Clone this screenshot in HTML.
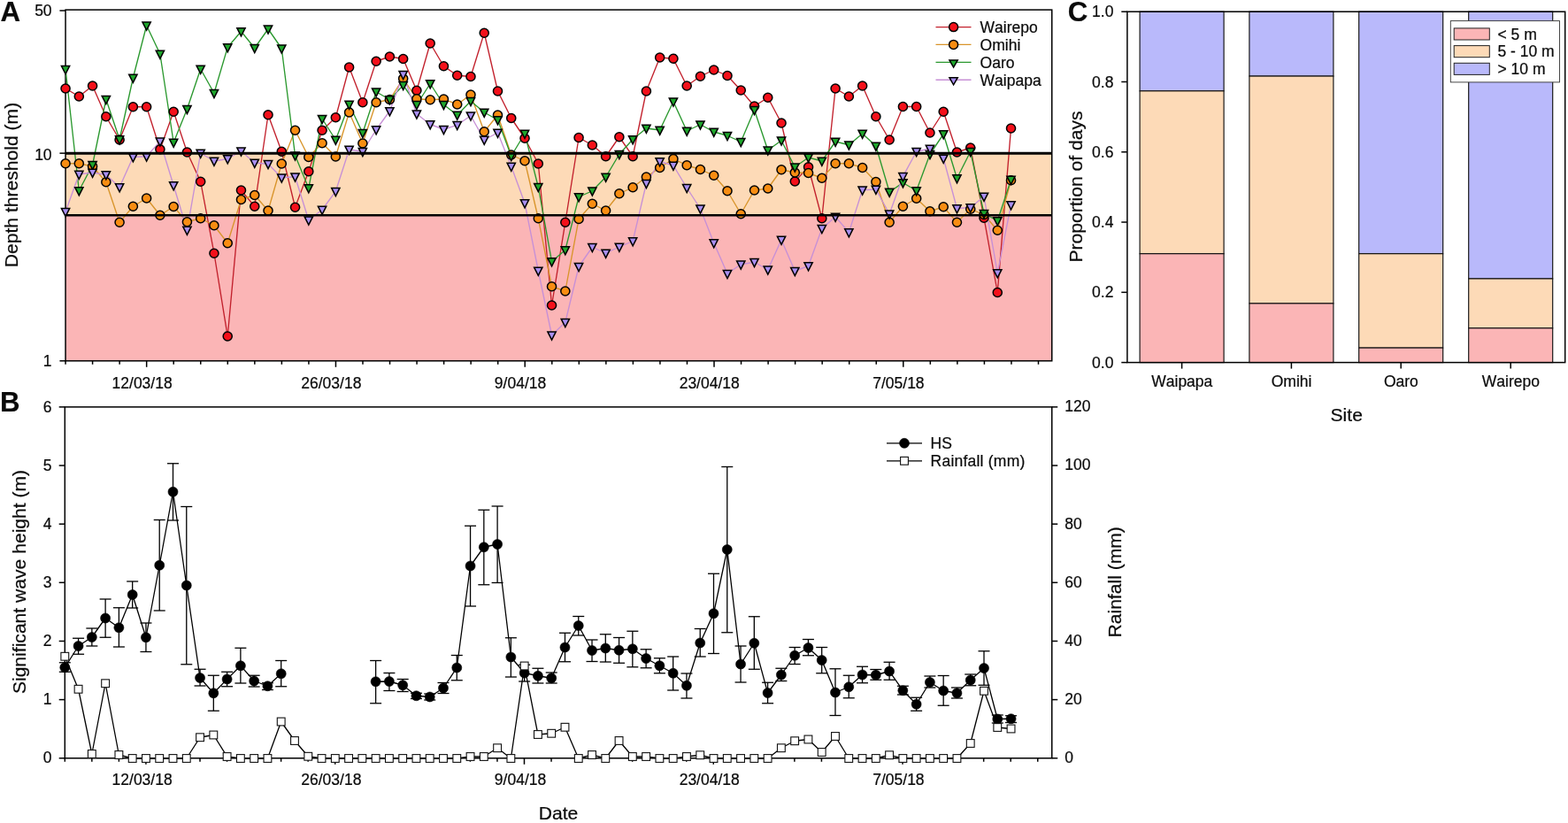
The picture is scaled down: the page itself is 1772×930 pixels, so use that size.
<!DOCTYPE html>
<html lang="en">
<head>
<meta charset="utf-8">
<title>Depth threshold, wave height, rainfall and proportion of days by site</title>
<style>
html,body{margin:0;padding:0;background:#fff;}
body{width:1772px;height:930px;overflow:hidden;}
svg{display:block;}
svg text{font-family:"Liberation Sans", sans-serif;fill:#0a0a0a;font-kerning:none;stroke:#0a0a0a;stroke-width:0.22px;stroke-linejoin:round;}
</style>
</head>
<body>
<svg width="1772" height="930" viewBox="0 0 1772 930">
<rect x="0" y="0" width="1772" height="930" fill="#ffffff"/>
<g id="panelA">
<rect x="74.05" y="173.15" width="1114.7" height="70.15" fill="#fddab7"/>
<rect x="74.05" y="243.3" width="1114.7" height="164.5" fill="#fbb5b6"/>
<rect x="74.05" y="11.1" width="1114.7" height="396.7" fill="none" stroke="#000" stroke-width="1.5"/>
<g class="lines">
<polyline points="74.05,100 89.31,109 104.58,97 119.84,131.75 135.11,158 150.37,120.75 165.63,120.75 180.9,168.75 196.16,126.25 211.43,172 226.69,205.25 241.95,286.25 257.22,380 272.48,215 287.75,233.25 303.01,129.75 318.27,171.25 333.54,234.25 348.8,193.75 364.07,147.25 379.33,132.75 394.59,76 409.86,115.75 425.12,69.25 440.39,64 455.65,66.5 470.91,102.25 486.18,49 501.44,74.75 516.71,85.25 531.97,86.5 547.23,37.25 562.5,103 577.76,133.5 593.03,156.25 608.29,185 623.55,345 638.82,251.25 654.08,155.5 669.35,164 684.61,176.75 699.87,154.75 715.14,176.75 730.4,103 745.67,65 760.93,66.25 776.19,97 791.46,86.25 806.72,79 821.99,85.5 837.25,102 852.51,120 867.78,110.25 883.04,139 898.31,205 913.57,188.75 928.83,246.75 944.1,100 959.36,109 974.63,97 989.89,131.75 1005.15,158 1020.42,120.5 1035.68,120.5 1050.95,150 1066.21,126.25 1081.47,172 1096.74,167 1112,246.25 1127.27,330.5 1142.53,145" fill="none" stroke="#c2202c" stroke-width="1.35" stroke-linejoin="round"/>
<polyline points="74.05,184.75 89.31,184.75 104.58,188 119.84,205.75 135.11,251.25 150.37,233.25 165.63,224 180.9,243.25 196.16,233.5 211.43,250.75 226.69,246.75 241.95,254.75 257.22,274.75 272.48,225.5 287.75,220.5 303.01,238 318.27,185 333.54,147.25 348.8,177.5 364.07,161.75 379.33,177 394.59,127 409.86,162 425.12,115.75 440.39,112.5 455.65,88.75 470.91,111.75 486.18,112.75 501.44,112 516.71,118 531.97,107 547.23,148.75 562.5,130 577.76,175 593.03,181.75 608.29,246.75 623.55,323.75 638.82,329 654.08,247.5 669.35,230.25 684.61,238 699.87,218.75 715.14,211.75 730.4,200 745.67,189.5 760.93,179.5 776.19,186.75 791.46,191.5 806.72,198.25 821.99,215.75 837.25,241.75 852.51,215 867.78,213 883.04,191.75 898.31,195 913.57,195.5 928.83,201.25 944.1,184.75 959.36,184.75 974.63,189.5 989.89,205.5 1005.15,251.25 1020.42,233.25 1035.68,224.25 1050.95,238.75 1066.21,233.75 1081.47,251.25 1096.74,236.25 1112,242.5 1127.27,260.25 1142.53,203.75" fill="none" stroke="#d8942a" stroke-width="1.35" stroke-linejoin="round"/>
<polyline points="74.05,78.25 89.31,215.5 104.58,186.25 119.84,112.25 135.11,157.5 150.37,88 165.63,28.75 180.9,61 196.16,161 211.43,123.25 226.69,78 241.95,105.25 257.22,53.5 272.48,35.5 287.75,54.25 303.01,32.75 318.27,54.75 333.54,175.75 348.8,212.5 364.07,134.25 379.33,158 394.59,118 409.86,150.25 425.12,103.75 440.39,112.5 455.65,96.25 470.91,118.25 486.18,94.5 501.44,118.25 516.71,130 531.97,114.25 547.23,127 562.5,135.5 577.76,176.25 593.03,151 608.29,211.25 623.55,295.5 638.82,282.5 654.08,222.5 669.35,215.75 684.61,200 699.87,174.25 715.14,157.5 730.4,145 745.67,147 760.93,114.75 776.19,148 791.46,140.75 806.72,149 821.99,153.25 837.25,160.25 852.51,124.25 867.78,169.75 883.04,158.75 898.31,188.75 913.57,178 928.83,182 944.1,160 959.36,163.75 974.63,151 989.89,165 1005.15,217 1020.42,206.5 1035.68,215.5 1050.95,174.25 1066.21,151.5 1081.47,201.5 1096.74,171.25 1112,241.25 1127.27,249.5 1142.53,203" fill="none" stroke="#2a982e" stroke-width="1.35" stroke-linejoin="round"/>
<polyline points="74.05,239.25 89.31,197 104.58,195 119.84,197.5 135.11,211.5 150.37,177.5 165.63,176.75 180.9,159.75 196.16,209.5 211.43,260 226.69,173 241.95,182 257.22,179.5 272.48,170.75 287.75,184 303.01,185.25 318.27,200.75 333.54,199.75 348.8,248.75 364.07,237 379.33,216.25 394.59,169 409.86,171.25 425.12,146.5 440.39,125.5 455.65,84.25 470.91,128.75 486.18,140.5 501.44,146.25 516.71,141.25 531.97,130.75 547.23,158 562.5,150 577.76,188 593.03,229.5 608.29,306 623.55,378.75 638.82,364.25 654.08,301.25 669.35,279.25 684.61,286 699.87,279 715.14,272.5 730.4,207.25 745.67,182.5 760.93,187 776.19,212.25 791.46,235.75 806.72,274.5 821.99,309.25 837.25,298.75 852.51,296.25 867.78,304.75 883.04,271 898.31,306.25 913.57,300.5 928.83,258.25 944.1,245 959.36,262.5 974.63,214.75 989.89,214 1005.15,241.75 1020.42,199.4 1035.68,171.25 1050.95,168 1066.21,179 1081.47,235.5 1096.74,234.5 1112,222 1127.27,308.5 1142.53,231.5" fill="none" stroke="#c790d6" stroke-width="1.35" stroke-linejoin="round"/>
</g>
<g class="m-Wairepo">
<circle cx="74.05" cy="100" r="5.05" fill="#f4101a" stroke="#000" stroke-width="1.5"/>
<circle cx="89.31" cy="109" r="5.05" fill="#f4101a" stroke="#000" stroke-width="1.5"/>
<circle cx="104.58" cy="97" r="5.05" fill="#f4101a" stroke="#000" stroke-width="1.5"/>
<circle cx="119.84" cy="131.75" r="5.05" fill="#f4101a" stroke="#000" stroke-width="1.5"/>
<circle cx="135.11" cy="158" r="5.05" fill="#f4101a" stroke="#000" stroke-width="1.5"/>
<circle cx="150.37" cy="120.75" r="5.05" fill="#f4101a" stroke="#000" stroke-width="1.5"/>
<circle cx="165.63" cy="120.75" r="5.05" fill="#f4101a" stroke="#000" stroke-width="1.5"/>
<circle cx="180.9" cy="168.75" r="5.05" fill="#f4101a" stroke="#000" stroke-width="1.5"/>
<circle cx="196.16" cy="126.25" r="5.05" fill="#f4101a" stroke="#000" stroke-width="1.5"/>
<circle cx="211.43" cy="172" r="5.05" fill="#f4101a" stroke="#000" stroke-width="1.5"/>
<circle cx="226.69" cy="205.25" r="5.05" fill="#f4101a" stroke="#000" stroke-width="1.5"/>
<circle cx="241.95" cy="286.25" r="5.05" fill="#f4101a" stroke="#000" stroke-width="1.5"/>
<circle cx="257.22" cy="380" r="5.05" fill="#f4101a" stroke="#000" stroke-width="1.5"/>
<circle cx="272.48" cy="215" r="5.05" fill="#f4101a" stroke="#000" stroke-width="1.5"/>
<circle cx="287.75" cy="233.25" r="5.05" fill="#f4101a" stroke="#000" stroke-width="1.5"/>
<circle cx="303.01" cy="129.75" r="5.05" fill="#f4101a" stroke="#000" stroke-width="1.5"/>
<circle cx="318.27" cy="171.25" r="5.05" fill="#f4101a" stroke="#000" stroke-width="1.5"/>
<circle cx="333.54" cy="234.25" r="5.05" fill="#f4101a" stroke="#000" stroke-width="1.5"/>
<circle cx="348.8" cy="193.75" r="5.05" fill="#f4101a" stroke="#000" stroke-width="1.5"/>
<circle cx="364.07" cy="147.25" r="5.05" fill="#f4101a" stroke="#000" stroke-width="1.5"/>
<circle cx="379.33" cy="132.75" r="5.05" fill="#f4101a" stroke="#000" stroke-width="1.5"/>
<circle cx="394.59" cy="76" r="5.05" fill="#f4101a" stroke="#000" stroke-width="1.5"/>
<circle cx="409.86" cy="115.75" r="5.05" fill="#f4101a" stroke="#000" stroke-width="1.5"/>
<circle cx="425.12" cy="69.25" r="5.05" fill="#f4101a" stroke="#000" stroke-width="1.5"/>
<circle cx="440.39" cy="64" r="5.05" fill="#f4101a" stroke="#000" stroke-width="1.5"/>
<circle cx="455.65" cy="66.5" r="5.05" fill="#f4101a" stroke="#000" stroke-width="1.5"/>
<circle cx="470.91" cy="102.25" r="5.05" fill="#f4101a" stroke="#000" stroke-width="1.5"/>
<circle cx="486.18" cy="49" r="5.05" fill="#f4101a" stroke="#000" stroke-width="1.5"/>
<circle cx="501.44" cy="74.75" r="5.05" fill="#f4101a" stroke="#000" stroke-width="1.5"/>
<circle cx="516.71" cy="85.25" r="5.05" fill="#f4101a" stroke="#000" stroke-width="1.5"/>
<circle cx="531.97" cy="86.5" r="5.05" fill="#f4101a" stroke="#000" stroke-width="1.5"/>
<circle cx="547.23" cy="37.25" r="5.05" fill="#f4101a" stroke="#000" stroke-width="1.5"/>
<circle cx="562.5" cy="103" r="5.05" fill="#f4101a" stroke="#000" stroke-width="1.5"/>
<circle cx="577.76" cy="133.5" r="5.05" fill="#f4101a" stroke="#000" stroke-width="1.5"/>
<circle cx="593.03" cy="156.25" r="5.05" fill="#f4101a" stroke="#000" stroke-width="1.5"/>
<circle cx="608.29" cy="185" r="5.05" fill="#f4101a" stroke="#000" stroke-width="1.5"/>
<circle cx="623.55" cy="345" r="5.05" fill="#f4101a" stroke="#000" stroke-width="1.5"/>
<circle cx="638.82" cy="251.25" r="5.05" fill="#f4101a" stroke="#000" stroke-width="1.5"/>
<circle cx="654.08" cy="155.5" r="5.05" fill="#f4101a" stroke="#000" stroke-width="1.5"/>
<circle cx="669.35" cy="164" r="5.05" fill="#f4101a" stroke="#000" stroke-width="1.5"/>
<circle cx="684.61" cy="176.75" r="5.05" fill="#f4101a" stroke="#000" stroke-width="1.5"/>
<circle cx="699.87" cy="154.75" r="5.05" fill="#f4101a" stroke="#000" stroke-width="1.5"/>
<circle cx="715.14" cy="176.75" r="5.05" fill="#f4101a" stroke="#000" stroke-width="1.5"/>
<circle cx="730.4" cy="103" r="5.05" fill="#f4101a" stroke="#000" stroke-width="1.5"/>
<circle cx="745.67" cy="65" r="5.05" fill="#f4101a" stroke="#000" stroke-width="1.5"/>
<circle cx="760.93" cy="66.25" r="5.05" fill="#f4101a" stroke="#000" stroke-width="1.5"/>
<circle cx="776.19" cy="97" r="5.05" fill="#f4101a" stroke="#000" stroke-width="1.5"/>
<circle cx="791.46" cy="86.25" r="5.05" fill="#f4101a" stroke="#000" stroke-width="1.5"/>
<circle cx="806.72" cy="79" r="5.05" fill="#f4101a" stroke="#000" stroke-width="1.5"/>
<circle cx="821.99" cy="85.5" r="5.05" fill="#f4101a" stroke="#000" stroke-width="1.5"/>
<circle cx="837.25" cy="102" r="5.05" fill="#f4101a" stroke="#000" stroke-width="1.5"/>
<circle cx="852.51" cy="120" r="5.05" fill="#f4101a" stroke="#000" stroke-width="1.5"/>
<circle cx="867.78" cy="110.25" r="5.05" fill="#f4101a" stroke="#000" stroke-width="1.5"/>
<circle cx="883.04" cy="139" r="5.05" fill="#f4101a" stroke="#000" stroke-width="1.5"/>
<circle cx="898.31" cy="205" r="5.05" fill="#f4101a" stroke="#000" stroke-width="1.5"/>
<circle cx="913.57" cy="188.75" r="5.05" fill="#f4101a" stroke="#000" stroke-width="1.5"/>
<circle cx="928.83" cy="246.75" r="5.05" fill="#f4101a" stroke="#000" stroke-width="1.5"/>
<circle cx="944.1" cy="100" r="5.05" fill="#f4101a" stroke="#000" stroke-width="1.5"/>
<circle cx="959.36" cy="109" r="5.05" fill="#f4101a" stroke="#000" stroke-width="1.5"/>
<circle cx="974.63" cy="97" r="5.05" fill="#f4101a" stroke="#000" stroke-width="1.5"/>
<circle cx="989.89" cy="131.75" r="5.05" fill="#f4101a" stroke="#000" stroke-width="1.5"/>
<circle cx="1005.15" cy="158" r="5.05" fill="#f4101a" stroke="#000" stroke-width="1.5"/>
<circle cx="1020.42" cy="120.5" r="5.05" fill="#f4101a" stroke="#000" stroke-width="1.5"/>
<circle cx="1035.68" cy="120.5" r="5.05" fill="#f4101a" stroke="#000" stroke-width="1.5"/>
<circle cx="1050.95" cy="150" r="5.05" fill="#f4101a" stroke="#000" stroke-width="1.5"/>
<circle cx="1066.21" cy="126.25" r="5.05" fill="#f4101a" stroke="#000" stroke-width="1.5"/>
<circle cx="1081.47" cy="172" r="5.05" fill="#f4101a" stroke="#000" stroke-width="1.5"/>
<circle cx="1096.74" cy="167" r="5.05" fill="#f4101a" stroke="#000" stroke-width="1.5"/>
<circle cx="1112" cy="246.25" r="5.05" fill="#f4101a" stroke="#000" stroke-width="1.5"/>
<circle cx="1127.27" cy="330.5" r="5.05" fill="#f4101a" stroke="#000" stroke-width="1.5"/>
<circle cx="1142.53" cy="145" r="5.05" fill="#f4101a" stroke="#000" stroke-width="1.5"/>
</g>
<g class="m-Omihi">
<circle cx="74.05" cy="184.75" r="5.05" fill="#f88d12" stroke="#000" stroke-width="1.5"/>
<circle cx="89.31" cy="184.75" r="5.05" fill="#f88d12" stroke="#000" stroke-width="1.5"/>
<circle cx="104.58" cy="188" r="5.05" fill="#f88d12" stroke="#000" stroke-width="1.5"/>
<circle cx="119.84" cy="205.75" r="5.05" fill="#f88d12" stroke="#000" stroke-width="1.5"/>
<circle cx="135.11" cy="251.25" r="5.05" fill="#f88d12" stroke="#000" stroke-width="1.5"/>
<circle cx="150.37" cy="233.25" r="5.05" fill="#f88d12" stroke="#000" stroke-width="1.5"/>
<circle cx="165.63" cy="224" r="5.05" fill="#f88d12" stroke="#000" stroke-width="1.5"/>
<circle cx="180.9" cy="243.25" r="5.05" fill="#f88d12" stroke="#000" stroke-width="1.5"/>
<circle cx="196.16" cy="233.5" r="5.05" fill="#f88d12" stroke="#000" stroke-width="1.5"/>
<circle cx="211.43" cy="250.75" r="5.05" fill="#f88d12" stroke="#000" stroke-width="1.5"/>
<circle cx="226.69" cy="246.75" r="5.05" fill="#f88d12" stroke="#000" stroke-width="1.5"/>
<circle cx="241.95" cy="254.75" r="5.05" fill="#f88d12" stroke="#000" stroke-width="1.5"/>
<circle cx="257.22" cy="274.75" r="5.05" fill="#f88d12" stroke="#000" stroke-width="1.5"/>
<circle cx="272.48" cy="225.5" r="5.05" fill="#f88d12" stroke="#000" stroke-width="1.5"/>
<circle cx="287.75" cy="220.5" r="5.05" fill="#f88d12" stroke="#000" stroke-width="1.5"/>
<circle cx="303.01" cy="238" r="5.05" fill="#f88d12" stroke="#000" stroke-width="1.5"/>
<circle cx="318.27" cy="185" r="5.05" fill="#f88d12" stroke="#000" stroke-width="1.5"/>
<circle cx="333.54" cy="147.25" r="5.05" fill="#f88d12" stroke="#000" stroke-width="1.5"/>
<circle cx="348.8" cy="177.5" r="5.05" fill="#f88d12" stroke="#000" stroke-width="1.5"/>
<circle cx="364.07" cy="161.75" r="5.05" fill="#f88d12" stroke="#000" stroke-width="1.5"/>
<circle cx="379.33" cy="177" r="5.05" fill="#f88d12" stroke="#000" stroke-width="1.5"/>
<circle cx="394.59" cy="127" r="5.05" fill="#f88d12" stroke="#000" stroke-width="1.5"/>
<circle cx="409.86" cy="162" r="5.05" fill="#f88d12" stroke="#000" stroke-width="1.5"/>
<circle cx="425.12" cy="115.75" r="5.05" fill="#f88d12" stroke="#000" stroke-width="1.5"/>
<circle cx="440.39" cy="112.5" r="5.05" fill="#f88d12" stroke="#000" stroke-width="1.5"/>
<circle cx="455.65" cy="88.75" r="5.05" fill="#f88d12" stroke="#000" stroke-width="1.5"/>
<circle cx="470.91" cy="111.75" r="5.05" fill="#f88d12" stroke="#000" stroke-width="1.5"/>
<circle cx="486.18" cy="112.75" r="5.05" fill="#f88d12" stroke="#000" stroke-width="1.5"/>
<circle cx="501.44" cy="112" r="5.05" fill="#f88d12" stroke="#000" stroke-width="1.5"/>
<circle cx="516.71" cy="118" r="5.05" fill="#f88d12" stroke="#000" stroke-width="1.5"/>
<circle cx="531.97" cy="107" r="5.05" fill="#f88d12" stroke="#000" stroke-width="1.5"/>
<circle cx="547.23" cy="148.75" r="5.05" fill="#f88d12" stroke="#000" stroke-width="1.5"/>
<circle cx="562.5" cy="130" r="5.05" fill="#f88d12" stroke="#000" stroke-width="1.5"/>
<circle cx="577.76" cy="175" r="5.05" fill="#f88d12" stroke="#000" stroke-width="1.5"/>
<circle cx="593.03" cy="181.75" r="5.05" fill="#f88d12" stroke="#000" stroke-width="1.5"/>
<circle cx="608.29" cy="246.75" r="5.05" fill="#f88d12" stroke="#000" stroke-width="1.5"/>
<circle cx="623.55" cy="323.75" r="5.05" fill="#f88d12" stroke="#000" stroke-width="1.5"/>
<circle cx="638.82" cy="329" r="5.05" fill="#f88d12" stroke="#000" stroke-width="1.5"/>
<circle cx="654.08" cy="247.5" r="5.05" fill="#f88d12" stroke="#000" stroke-width="1.5"/>
<circle cx="669.35" cy="230.25" r="5.05" fill="#f88d12" stroke="#000" stroke-width="1.5"/>
<circle cx="684.61" cy="238" r="5.05" fill="#f88d12" stroke="#000" stroke-width="1.5"/>
<circle cx="699.87" cy="218.75" r="5.05" fill="#f88d12" stroke="#000" stroke-width="1.5"/>
<circle cx="715.14" cy="211.75" r="5.05" fill="#f88d12" stroke="#000" stroke-width="1.5"/>
<circle cx="730.4" cy="200" r="5.05" fill="#f88d12" stroke="#000" stroke-width="1.5"/>
<circle cx="745.67" cy="189.5" r="5.05" fill="#f88d12" stroke="#000" stroke-width="1.5"/>
<circle cx="760.93" cy="179.5" r="5.05" fill="#f88d12" stroke="#000" stroke-width="1.5"/>
<circle cx="776.19" cy="186.75" r="5.05" fill="#f88d12" stroke="#000" stroke-width="1.5"/>
<circle cx="791.46" cy="191.5" r="5.05" fill="#f88d12" stroke="#000" stroke-width="1.5"/>
<circle cx="806.72" cy="198.25" r="5.05" fill="#f88d12" stroke="#000" stroke-width="1.5"/>
<circle cx="821.99" cy="215.75" r="5.05" fill="#f88d12" stroke="#000" stroke-width="1.5"/>
<circle cx="837.25" cy="241.75" r="5.05" fill="#f88d12" stroke="#000" stroke-width="1.5"/>
<circle cx="852.51" cy="215" r="5.05" fill="#f88d12" stroke="#000" stroke-width="1.5"/>
<circle cx="867.78" cy="213" r="5.05" fill="#f88d12" stroke="#000" stroke-width="1.5"/>
<circle cx="883.04" cy="191.75" r="5.05" fill="#f88d12" stroke="#000" stroke-width="1.5"/>
<circle cx="898.31" cy="195" r="5.05" fill="#f88d12" stroke="#000" stroke-width="1.5"/>
<circle cx="913.57" cy="195.5" r="5.05" fill="#f88d12" stroke="#000" stroke-width="1.5"/>
<circle cx="928.83" cy="201.25" r="5.05" fill="#f88d12" stroke="#000" stroke-width="1.5"/>
<circle cx="944.1" cy="184.75" r="5.05" fill="#f88d12" stroke="#000" stroke-width="1.5"/>
<circle cx="959.36" cy="184.75" r="5.05" fill="#f88d12" stroke="#000" stroke-width="1.5"/>
<circle cx="974.63" cy="189.5" r="5.05" fill="#f88d12" stroke="#000" stroke-width="1.5"/>
<circle cx="989.89" cy="205.5" r="5.05" fill="#f88d12" stroke="#000" stroke-width="1.5"/>
<circle cx="1005.15" cy="251.25" r="5.05" fill="#f88d12" stroke="#000" stroke-width="1.5"/>
<circle cx="1020.42" cy="233.25" r="5.05" fill="#f88d12" stroke="#000" stroke-width="1.5"/>
<circle cx="1035.68" cy="224.25" r="5.05" fill="#f88d12" stroke="#000" stroke-width="1.5"/>
<circle cx="1050.95" cy="238.75" r="5.05" fill="#f88d12" stroke="#000" stroke-width="1.5"/>
<circle cx="1066.21" cy="233.75" r="5.05" fill="#f88d12" stroke="#000" stroke-width="1.5"/>
<circle cx="1081.47" cy="251.25" r="5.05" fill="#f88d12" stroke="#000" stroke-width="1.5"/>
<circle cx="1096.74" cy="236.25" r="5.05" fill="#f88d12" stroke="#000" stroke-width="1.5"/>
<circle cx="1112" cy="242.5" r="5.05" fill="#f88d12" stroke="#000" stroke-width="1.5"/>
<circle cx="1127.27" cy="260.25" r="5.05" fill="#f88d12" stroke="#000" stroke-width="1.5"/>
<circle cx="1142.53" cy="203.75" r="5.05" fill="#f88d12" stroke="#000" stroke-width="1.5"/>
</g>
<g class="m-Oaro">
<polygon points="69.4,74.45 78.7,74.45 74.05,83.55" fill="#1ea62c" stroke="#000" stroke-width="1.5" stroke-linejoin="miter"/>
<polygon points="84.66,211.7 93.96,211.7 89.31,220.8" fill="#1ea62c" stroke="#000" stroke-width="1.5" stroke-linejoin="miter"/>
<polygon points="99.93,182.45 109.23,182.45 104.58,191.55" fill="#1ea62c" stroke="#000" stroke-width="1.5" stroke-linejoin="miter"/>
<polygon points="115.19,108.45 124.49,108.45 119.84,117.55" fill="#1ea62c" stroke="#000" stroke-width="1.5" stroke-linejoin="miter"/>
<polygon points="130.46,153.7 139.76,153.7 135.11,162.8" fill="#1ea62c" stroke="#000" stroke-width="1.5" stroke-linejoin="miter"/>
<polygon points="145.72,84.2 155.02,84.2 150.37,93.3" fill="#1ea62c" stroke="#000" stroke-width="1.5" stroke-linejoin="miter"/>
<polygon points="160.98,24.95 170.28,24.95 165.63,34.05" fill="#1ea62c" stroke="#000" stroke-width="1.5" stroke-linejoin="miter"/>
<polygon points="176.25,57.2 185.55,57.2 180.9,66.3" fill="#1ea62c" stroke="#000" stroke-width="1.5" stroke-linejoin="miter"/>
<polygon points="191.51,157.2 200.81,157.2 196.16,166.3" fill="#1ea62c" stroke="#000" stroke-width="1.5" stroke-linejoin="miter"/>
<polygon points="206.78,119.45 216.08,119.45 211.43,128.55" fill="#1ea62c" stroke="#000" stroke-width="1.5" stroke-linejoin="miter"/>
<polygon points="222.04,74.2 231.34,74.2 226.69,83.3" fill="#1ea62c" stroke="#000" stroke-width="1.5" stroke-linejoin="miter"/>
<polygon points="237.3,101.45 246.6,101.45 241.95,110.55" fill="#1ea62c" stroke="#000" stroke-width="1.5" stroke-linejoin="miter"/>
<polygon points="252.57,49.7 261.87,49.7 257.22,58.8" fill="#1ea62c" stroke="#000" stroke-width="1.5" stroke-linejoin="miter"/>
<polygon points="267.83,31.7 277.13,31.7 272.48,40.8" fill="#1ea62c" stroke="#000" stroke-width="1.5" stroke-linejoin="miter"/>
<polygon points="283.1,50.45 292.4,50.45 287.75,59.55" fill="#1ea62c" stroke="#000" stroke-width="1.5" stroke-linejoin="miter"/>
<polygon points="298.36,28.95 307.66,28.95 303.01,38.05" fill="#1ea62c" stroke="#000" stroke-width="1.5" stroke-linejoin="miter"/>
<polygon points="313.62,50.95 322.92,50.95 318.27,60.05" fill="#1ea62c" stroke="#000" stroke-width="1.5" stroke-linejoin="miter"/>
<polygon points="328.89,171.95 338.19,171.95 333.54,181.05" fill="#1ea62c" stroke="#000" stroke-width="1.5" stroke-linejoin="miter"/>
<polygon points="344.15,208.7 353.45,208.7 348.8,217.8" fill="#1ea62c" stroke="#000" stroke-width="1.5" stroke-linejoin="miter"/>
<polygon points="359.42,130.45 368.72,130.45 364.07,139.55" fill="#1ea62c" stroke="#000" stroke-width="1.5" stroke-linejoin="miter"/>
<polygon points="374.68,154.2 383.98,154.2 379.33,163.3" fill="#1ea62c" stroke="#000" stroke-width="1.5" stroke-linejoin="miter"/>
<polygon points="389.94,114.2 399.24,114.2 394.59,123.3" fill="#1ea62c" stroke="#000" stroke-width="1.5" stroke-linejoin="miter"/>
<polygon points="405.21,146.45 414.51,146.45 409.86,155.55" fill="#1ea62c" stroke="#000" stroke-width="1.5" stroke-linejoin="miter"/>
<polygon points="420.47,99.95 429.77,99.95 425.12,109.05" fill="#1ea62c" stroke="#000" stroke-width="1.5" stroke-linejoin="miter"/>
<polygon points="435.74,108.7 445.04,108.7 440.39,117.8" fill="#1ea62c" stroke="#000" stroke-width="1.5" stroke-linejoin="miter"/>
<polygon points="451,92.45 460.3,92.45 455.65,101.55" fill="#1ea62c" stroke="#000" stroke-width="1.5" stroke-linejoin="miter"/>
<polygon points="466.26,114.45 475.56,114.45 470.91,123.55" fill="#1ea62c" stroke="#000" stroke-width="1.5" stroke-linejoin="miter"/>
<polygon points="481.53,90.7 490.83,90.7 486.18,99.8" fill="#1ea62c" stroke="#000" stroke-width="1.5" stroke-linejoin="miter"/>
<polygon points="496.79,114.45 506.09,114.45 501.44,123.55" fill="#1ea62c" stroke="#000" stroke-width="1.5" stroke-linejoin="miter"/>
<polygon points="512.06,126.2 521.36,126.2 516.71,135.3" fill="#1ea62c" stroke="#000" stroke-width="1.5" stroke-linejoin="miter"/>
<polygon points="527.32,110.45 536.62,110.45 531.97,119.55" fill="#1ea62c" stroke="#000" stroke-width="1.5" stroke-linejoin="miter"/>
<polygon points="542.58,123.2 551.88,123.2 547.23,132.3" fill="#1ea62c" stroke="#000" stroke-width="1.5" stroke-linejoin="miter"/>
<polygon points="557.85,131.7 567.15,131.7 562.5,140.8" fill="#1ea62c" stroke="#000" stroke-width="1.5" stroke-linejoin="miter"/>
<polygon points="573.11,172.45 582.41,172.45 577.76,181.55" fill="#1ea62c" stroke="#000" stroke-width="1.5" stroke-linejoin="miter"/>
<polygon points="588.38,147.2 597.68,147.2 593.03,156.3" fill="#1ea62c" stroke="#000" stroke-width="1.5" stroke-linejoin="miter"/>
<polygon points="603.64,207.45 612.94,207.45 608.29,216.55" fill="#1ea62c" stroke="#000" stroke-width="1.5" stroke-linejoin="miter"/>
<polygon points="618.9,291.7 628.2,291.7 623.55,300.8" fill="#1ea62c" stroke="#000" stroke-width="1.5" stroke-linejoin="miter"/>
<polygon points="634.17,278.7 643.47,278.7 638.82,287.8" fill="#1ea62c" stroke="#000" stroke-width="1.5" stroke-linejoin="miter"/>
<polygon points="649.43,218.7 658.73,218.7 654.08,227.8" fill="#1ea62c" stroke="#000" stroke-width="1.5" stroke-linejoin="miter"/>
<polygon points="664.7,211.95 674,211.95 669.35,221.05" fill="#1ea62c" stroke="#000" stroke-width="1.5" stroke-linejoin="miter"/>
<polygon points="679.96,196.2 689.26,196.2 684.61,205.3" fill="#1ea62c" stroke="#000" stroke-width="1.5" stroke-linejoin="miter"/>
<polygon points="695.22,170.45 704.52,170.45 699.87,179.55" fill="#1ea62c" stroke="#000" stroke-width="1.5" stroke-linejoin="miter"/>
<polygon points="710.49,153.7 719.79,153.7 715.14,162.8" fill="#1ea62c" stroke="#000" stroke-width="1.5" stroke-linejoin="miter"/>
<polygon points="725.75,141.2 735.05,141.2 730.4,150.3" fill="#1ea62c" stroke="#000" stroke-width="1.5" stroke-linejoin="miter"/>
<polygon points="741.02,143.2 750.32,143.2 745.67,152.3" fill="#1ea62c" stroke="#000" stroke-width="1.5" stroke-linejoin="miter"/>
<polygon points="756.28,110.95 765.58,110.95 760.93,120.05" fill="#1ea62c" stroke="#000" stroke-width="1.5" stroke-linejoin="miter"/>
<polygon points="771.54,144.2 780.84,144.2 776.19,153.3" fill="#1ea62c" stroke="#000" stroke-width="1.5" stroke-linejoin="miter"/>
<polygon points="786.81,136.95 796.11,136.95 791.46,146.05" fill="#1ea62c" stroke="#000" stroke-width="1.5" stroke-linejoin="miter"/>
<polygon points="802.07,145.2 811.37,145.2 806.72,154.3" fill="#1ea62c" stroke="#000" stroke-width="1.5" stroke-linejoin="miter"/>
<polygon points="817.34,149.45 826.64,149.45 821.99,158.55" fill="#1ea62c" stroke="#000" stroke-width="1.5" stroke-linejoin="miter"/>
<polygon points="832.6,156.45 841.9,156.45 837.25,165.55" fill="#1ea62c" stroke="#000" stroke-width="1.5" stroke-linejoin="miter"/>
<polygon points="847.86,120.45 857.16,120.45 852.51,129.55" fill="#1ea62c" stroke="#000" stroke-width="1.5" stroke-linejoin="miter"/>
<polygon points="863.13,165.95 872.43,165.95 867.78,175.05" fill="#1ea62c" stroke="#000" stroke-width="1.5" stroke-linejoin="miter"/>
<polygon points="878.39,154.95 887.69,154.95 883.04,164.05" fill="#1ea62c" stroke="#000" stroke-width="1.5" stroke-linejoin="miter"/>
<polygon points="893.66,184.95 902.96,184.95 898.31,194.05" fill="#1ea62c" stroke="#000" stroke-width="1.5" stroke-linejoin="miter"/>
<polygon points="908.92,174.2 918.22,174.2 913.57,183.3" fill="#1ea62c" stroke="#000" stroke-width="1.5" stroke-linejoin="miter"/>
<polygon points="924.18,178.2 933.48,178.2 928.83,187.3" fill="#1ea62c" stroke="#000" stroke-width="1.5" stroke-linejoin="miter"/>
<polygon points="939.45,156.2 948.75,156.2 944.1,165.3" fill="#1ea62c" stroke="#000" stroke-width="1.5" stroke-linejoin="miter"/>
<polygon points="954.71,159.95 964.01,159.95 959.36,169.05" fill="#1ea62c" stroke="#000" stroke-width="1.5" stroke-linejoin="miter"/>
<polygon points="969.98,147.2 979.28,147.2 974.63,156.3" fill="#1ea62c" stroke="#000" stroke-width="1.5" stroke-linejoin="miter"/>
<polygon points="985.24,161.2 994.54,161.2 989.89,170.3" fill="#1ea62c" stroke="#000" stroke-width="1.5" stroke-linejoin="miter"/>
<polygon points="1000.5,213.2 1009.8,213.2 1005.15,222.3" fill="#1ea62c" stroke="#000" stroke-width="1.5" stroke-linejoin="miter"/>
<polygon points="1015.77,202.7 1025.07,202.7 1020.42,211.8" fill="#1ea62c" stroke="#000" stroke-width="1.5" stroke-linejoin="miter"/>
<polygon points="1031.03,211.7 1040.33,211.7 1035.68,220.8" fill="#1ea62c" stroke="#000" stroke-width="1.5" stroke-linejoin="miter"/>
<polygon points="1046.3,170.45 1055.6,170.45 1050.95,179.55" fill="#1ea62c" stroke="#000" stroke-width="1.5" stroke-linejoin="miter"/>
<polygon points="1061.56,147.7 1070.86,147.7 1066.21,156.8" fill="#1ea62c" stroke="#000" stroke-width="1.5" stroke-linejoin="miter"/>
<polygon points="1076.82,197.7 1086.12,197.7 1081.47,206.8" fill="#1ea62c" stroke="#000" stroke-width="1.5" stroke-linejoin="miter"/>
<polygon points="1092.09,167.45 1101.39,167.45 1096.74,176.55" fill="#1ea62c" stroke="#000" stroke-width="1.5" stroke-linejoin="miter"/>
<polygon points="1107.35,237.45 1116.65,237.45 1112,246.55" fill="#1ea62c" stroke="#000" stroke-width="1.5" stroke-linejoin="miter"/>
<polygon points="1122.62,245.7 1131.92,245.7 1127.27,254.8" fill="#1ea62c" stroke="#000" stroke-width="1.5" stroke-linejoin="miter"/>
<polygon points="1137.88,199.2 1147.18,199.2 1142.53,208.3" fill="#1ea62c" stroke="#000" stroke-width="1.5" stroke-linejoin="miter"/>
</g>
<g class="m-Waipapa">
<polygon points="69.4,235.45 78.7,235.45 74.05,244.55" fill="#a98ff1" stroke="#000" stroke-width="1.5" stroke-linejoin="miter"/>
<polygon points="84.66,193.2 93.96,193.2 89.31,202.3" fill="#a98ff1" stroke="#000" stroke-width="1.5" stroke-linejoin="miter"/>
<polygon points="99.93,191.2 109.23,191.2 104.58,200.3" fill="#a98ff1" stroke="#000" stroke-width="1.5" stroke-linejoin="miter"/>
<polygon points="115.19,193.7 124.49,193.7 119.84,202.8" fill="#a98ff1" stroke="#000" stroke-width="1.5" stroke-linejoin="miter"/>
<polygon points="130.46,207.7 139.76,207.7 135.11,216.8" fill="#a98ff1" stroke="#000" stroke-width="1.5" stroke-linejoin="miter"/>
<polygon points="145.72,173.7 155.02,173.7 150.37,182.8" fill="#a98ff1" stroke="#000" stroke-width="1.5" stroke-linejoin="miter"/>
<polygon points="160.98,172.95 170.28,172.95 165.63,182.05" fill="#a98ff1" stroke="#000" stroke-width="1.5" stroke-linejoin="miter"/>
<polygon points="176.25,155.95 185.55,155.95 180.9,165.05" fill="#a98ff1" stroke="#000" stroke-width="1.5" stroke-linejoin="miter"/>
<polygon points="191.51,205.7 200.81,205.7 196.16,214.8" fill="#a98ff1" stroke="#000" stroke-width="1.5" stroke-linejoin="miter"/>
<polygon points="206.78,256.2 216.08,256.2 211.43,265.3" fill="#a98ff1" stroke="#000" stroke-width="1.5" stroke-linejoin="miter"/>
<polygon points="222.04,169.2 231.34,169.2 226.69,178.3" fill="#a98ff1" stroke="#000" stroke-width="1.5" stroke-linejoin="miter"/>
<polygon points="237.3,178.2 246.6,178.2 241.95,187.3" fill="#a98ff1" stroke="#000" stroke-width="1.5" stroke-linejoin="miter"/>
<polygon points="252.57,175.7 261.87,175.7 257.22,184.8" fill="#a98ff1" stroke="#000" stroke-width="1.5" stroke-linejoin="miter"/>
<polygon points="267.83,166.95 277.13,166.95 272.48,176.05" fill="#a98ff1" stroke="#000" stroke-width="1.5" stroke-linejoin="miter"/>
<polygon points="283.1,180.2 292.4,180.2 287.75,189.3" fill="#a98ff1" stroke="#000" stroke-width="1.5" stroke-linejoin="miter"/>
<polygon points="298.36,181.45 307.66,181.45 303.01,190.55" fill="#a98ff1" stroke="#000" stroke-width="1.5" stroke-linejoin="miter"/>
<polygon points="313.62,196.95 322.92,196.95 318.27,206.05" fill="#a98ff1" stroke="#000" stroke-width="1.5" stroke-linejoin="miter"/>
<polygon points="328.89,195.95 338.19,195.95 333.54,205.05" fill="#a98ff1" stroke="#000" stroke-width="1.5" stroke-linejoin="miter"/>
<polygon points="344.15,244.95 353.45,244.95 348.8,254.05" fill="#a98ff1" stroke="#000" stroke-width="1.5" stroke-linejoin="miter"/>
<polygon points="359.42,233.2 368.72,233.2 364.07,242.3" fill="#a98ff1" stroke="#000" stroke-width="1.5" stroke-linejoin="miter"/>
<polygon points="374.68,212.45 383.98,212.45 379.33,221.55" fill="#a98ff1" stroke="#000" stroke-width="1.5" stroke-linejoin="miter"/>
<polygon points="389.94,165.2 399.24,165.2 394.59,174.3" fill="#a98ff1" stroke="#000" stroke-width="1.5" stroke-linejoin="miter"/>
<polygon points="405.21,167.45 414.51,167.45 409.86,176.55" fill="#a98ff1" stroke="#000" stroke-width="1.5" stroke-linejoin="miter"/>
<polygon points="420.47,142.7 429.77,142.7 425.12,151.8" fill="#a98ff1" stroke="#000" stroke-width="1.5" stroke-linejoin="miter"/>
<polygon points="435.74,121.7 445.04,121.7 440.39,130.8" fill="#a98ff1" stroke="#000" stroke-width="1.5" stroke-linejoin="miter"/>
<polygon points="451,80.45 460.3,80.45 455.65,89.55" fill="#a98ff1" stroke="#000" stroke-width="1.5" stroke-linejoin="miter"/>
<polygon points="466.26,124.95 475.56,124.95 470.91,134.05" fill="#a98ff1" stroke="#000" stroke-width="1.5" stroke-linejoin="miter"/>
<polygon points="481.53,136.7 490.83,136.7 486.18,145.8" fill="#a98ff1" stroke="#000" stroke-width="1.5" stroke-linejoin="miter"/>
<polygon points="496.79,142.45 506.09,142.45 501.44,151.55" fill="#a98ff1" stroke="#000" stroke-width="1.5" stroke-linejoin="miter"/>
<polygon points="512.06,137.45 521.36,137.45 516.71,146.55" fill="#a98ff1" stroke="#000" stroke-width="1.5" stroke-linejoin="miter"/>
<polygon points="527.32,126.95 536.62,126.95 531.97,136.05" fill="#a98ff1" stroke="#000" stroke-width="1.5" stroke-linejoin="miter"/>
<polygon points="542.58,154.2 551.88,154.2 547.23,163.3" fill="#a98ff1" stroke="#000" stroke-width="1.5" stroke-linejoin="miter"/>
<polygon points="557.85,146.2 567.15,146.2 562.5,155.3" fill="#a98ff1" stroke="#000" stroke-width="1.5" stroke-linejoin="miter"/>
<polygon points="573.11,184.2 582.41,184.2 577.76,193.3" fill="#a98ff1" stroke="#000" stroke-width="1.5" stroke-linejoin="miter"/>
<polygon points="588.38,225.7 597.68,225.7 593.03,234.8" fill="#a98ff1" stroke="#000" stroke-width="1.5" stroke-linejoin="miter"/>
<polygon points="603.64,302.2 612.94,302.2 608.29,311.3" fill="#a98ff1" stroke="#000" stroke-width="1.5" stroke-linejoin="miter"/>
<polygon points="618.9,374.95 628.2,374.95 623.55,384.05" fill="#a98ff1" stroke="#000" stroke-width="1.5" stroke-linejoin="miter"/>
<polygon points="634.17,360.45 643.47,360.45 638.82,369.55" fill="#a98ff1" stroke="#000" stroke-width="1.5" stroke-linejoin="miter"/>
<polygon points="649.43,297.45 658.73,297.45 654.08,306.55" fill="#a98ff1" stroke="#000" stroke-width="1.5" stroke-linejoin="miter"/>
<polygon points="664.7,275.45 674,275.45 669.35,284.55" fill="#a98ff1" stroke="#000" stroke-width="1.5" stroke-linejoin="miter"/>
<polygon points="679.96,282.2 689.26,282.2 684.61,291.3" fill="#a98ff1" stroke="#000" stroke-width="1.5" stroke-linejoin="miter"/>
<polygon points="695.22,275.2 704.52,275.2 699.87,284.3" fill="#a98ff1" stroke="#000" stroke-width="1.5" stroke-linejoin="miter"/>
<polygon points="710.49,268.7 719.79,268.7 715.14,277.8" fill="#a98ff1" stroke="#000" stroke-width="1.5" stroke-linejoin="miter"/>
<polygon points="725.75,203.45 735.05,203.45 730.4,212.55" fill="#a98ff1" stroke="#000" stroke-width="1.5" stroke-linejoin="miter"/>
<polygon points="741.02,178.7 750.32,178.7 745.67,187.8" fill="#a98ff1" stroke="#000" stroke-width="1.5" stroke-linejoin="miter"/>
<polygon points="756.28,183.2 765.58,183.2 760.93,192.3" fill="#a98ff1" stroke="#000" stroke-width="1.5" stroke-linejoin="miter"/>
<polygon points="771.54,208.45 780.84,208.45 776.19,217.55" fill="#a98ff1" stroke="#000" stroke-width="1.5" stroke-linejoin="miter"/>
<polygon points="786.81,231.95 796.11,231.95 791.46,241.05" fill="#a98ff1" stroke="#000" stroke-width="1.5" stroke-linejoin="miter"/>
<polygon points="802.07,270.7 811.37,270.7 806.72,279.8" fill="#a98ff1" stroke="#000" stroke-width="1.5" stroke-linejoin="miter"/>
<polygon points="817.34,305.45 826.64,305.45 821.99,314.55" fill="#a98ff1" stroke="#000" stroke-width="1.5" stroke-linejoin="miter"/>
<polygon points="832.6,294.95 841.9,294.95 837.25,304.05" fill="#a98ff1" stroke="#000" stroke-width="1.5" stroke-linejoin="miter"/>
<polygon points="847.86,292.45 857.16,292.45 852.51,301.55" fill="#a98ff1" stroke="#000" stroke-width="1.5" stroke-linejoin="miter"/>
<polygon points="863.13,300.95 872.43,300.95 867.78,310.05" fill="#a98ff1" stroke="#000" stroke-width="1.5" stroke-linejoin="miter"/>
<polygon points="878.39,267.2 887.69,267.2 883.04,276.3" fill="#a98ff1" stroke="#000" stroke-width="1.5" stroke-linejoin="miter"/>
<polygon points="893.66,302.45 902.96,302.45 898.31,311.55" fill="#a98ff1" stroke="#000" stroke-width="1.5" stroke-linejoin="miter"/>
<polygon points="908.92,296.7 918.22,296.7 913.57,305.8" fill="#a98ff1" stroke="#000" stroke-width="1.5" stroke-linejoin="miter"/>
<polygon points="924.18,254.45 933.48,254.45 928.83,263.55" fill="#a98ff1" stroke="#000" stroke-width="1.5" stroke-linejoin="miter"/>
<polygon points="939.45,241.2 948.75,241.2 944.1,250.3" fill="#a98ff1" stroke="#000" stroke-width="1.5" stroke-linejoin="miter"/>
<polygon points="954.71,258.7 964.01,258.7 959.36,267.8" fill="#a98ff1" stroke="#000" stroke-width="1.5" stroke-linejoin="miter"/>
<polygon points="969.98,210.95 979.28,210.95 974.63,220.05" fill="#a98ff1" stroke="#000" stroke-width="1.5" stroke-linejoin="miter"/>
<polygon points="985.24,210.2 994.54,210.2 989.89,219.3" fill="#a98ff1" stroke="#000" stroke-width="1.5" stroke-linejoin="miter"/>
<polygon points="1000.5,237.95 1009.8,237.95 1005.15,247.05" fill="#a98ff1" stroke="#000" stroke-width="1.5" stroke-linejoin="miter"/>
<polygon points="1015.77,195.6 1025.07,195.6 1020.42,204.7" fill="#a98ff1" stroke="#000" stroke-width="1.5" stroke-linejoin="miter"/>
<polygon points="1031.03,167.45 1040.33,167.45 1035.68,176.55" fill="#a98ff1" stroke="#000" stroke-width="1.5" stroke-linejoin="miter"/>
<polygon points="1046.3,164.2 1055.6,164.2 1050.95,173.3" fill="#a98ff1" stroke="#000" stroke-width="1.5" stroke-linejoin="miter"/>
<polygon points="1061.56,175.2 1070.86,175.2 1066.21,184.3" fill="#a98ff1" stroke="#000" stroke-width="1.5" stroke-linejoin="miter"/>
<polygon points="1076.82,231.7 1086.12,231.7 1081.47,240.8" fill="#a98ff1" stroke="#000" stroke-width="1.5" stroke-linejoin="miter"/>
<polygon points="1092.09,230.7 1101.39,230.7 1096.74,239.8" fill="#a98ff1" stroke="#000" stroke-width="1.5" stroke-linejoin="miter"/>
<polygon points="1107.35,218.2 1116.65,218.2 1112,227.3" fill="#a98ff1" stroke="#000" stroke-width="1.5" stroke-linejoin="miter"/>
<polygon points="1122.62,304.7 1131.92,304.7 1127.27,313.8" fill="#a98ff1" stroke="#000" stroke-width="1.5" stroke-linejoin="miter"/>
<polygon points="1137.88,227.7 1147.18,227.7 1142.53,236.8" fill="#a98ff1" stroke="#000" stroke-width="1.5" stroke-linejoin="miter"/>
</g>
<line x1="74.05" y1="173.15" x2="1188.75" y2="173.15" stroke="#000" stroke-width="3"/>
<line x1="74.05" y1="243.3" x2="1188.75" y2="243.3" stroke="#000" stroke-width="2.6"/>
<line x1="67.45" y1="12" x2="74.05" y2="12" stroke="#000" stroke-width="1.5"/>
<text x="58.6" y="18" font-size="17.5" text-anchor="end">50</text>
<line x1="67.45" y1="173.15" x2="74.05" y2="173.15" stroke="#000" stroke-width="1.5"/>
<text x="58.6" y="180.5" font-size="17.5" text-anchor="end">10</text>
<line x1="67.45" y1="407.8" x2="74.05" y2="407.8" stroke="#000" stroke-width="1.5"/>
<text x="58.6" y="413.8" font-size="17.5" text-anchor="end">1</text>
<line x1="74.05" y1="407.8" x2="74.05" y2="411.8" stroke="#000" stroke-width="1.5"/>
<line x1="104.59" y1="407.8" x2="104.59" y2="411.8" stroke="#000" stroke-width="1.5"/>
<line x1="135.13" y1="407.8" x2="135.13" y2="411.8" stroke="#000" stroke-width="1.5"/>
<line x1="165.67" y1="407.8" x2="165.67" y2="414.8" stroke="#000" stroke-width="1.5"/>
<line x1="196.21" y1="407.8" x2="196.21" y2="411.8" stroke="#000" stroke-width="1.5"/>
<line x1="226.75" y1="407.8" x2="226.75" y2="411.8" stroke="#000" stroke-width="1.5"/>
<line x1="257.29" y1="407.8" x2="257.29" y2="411.8" stroke="#000" stroke-width="1.5"/>
<line x1="287.83" y1="407.8" x2="287.83" y2="411.8" stroke="#000" stroke-width="1.5"/>
<line x1="318.37" y1="407.8" x2="318.37" y2="411.8" stroke="#000" stroke-width="1.5"/>
<line x1="348.91" y1="407.8" x2="348.91" y2="411.8" stroke="#000" stroke-width="1.5"/>
<line x1="379.45" y1="407.8" x2="379.45" y2="414.8" stroke="#000" stroke-width="1.5"/>
<line x1="409.99" y1="407.8" x2="409.99" y2="411.8" stroke="#000" stroke-width="1.5"/>
<line x1="440.53" y1="407.8" x2="440.53" y2="411.8" stroke="#000" stroke-width="1.5"/>
<line x1="471.07" y1="407.8" x2="471.07" y2="411.8" stroke="#000" stroke-width="1.5"/>
<line x1="501.61" y1="407.8" x2="501.61" y2="411.8" stroke="#000" stroke-width="1.5"/>
<line x1="532.15" y1="407.8" x2="532.15" y2="411.8" stroke="#000" stroke-width="1.5"/>
<line x1="562.69" y1="407.8" x2="562.69" y2="411.8" stroke="#000" stroke-width="1.5"/>
<line x1="593.23" y1="407.8" x2="593.23" y2="414.8" stroke="#000" stroke-width="1.5"/>
<line x1="623.77" y1="407.8" x2="623.77" y2="411.8" stroke="#000" stroke-width="1.5"/>
<line x1="654.31" y1="407.8" x2="654.31" y2="411.8" stroke="#000" stroke-width="1.5"/>
<line x1="684.85" y1="407.8" x2="684.85" y2="411.8" stroke="#000" stroke-width="1.5"/>
<line x1="715.39" y1="407.8" x2="715.39" y2="411.8" stroke="#000" stroke-width="1.5"/>
<line x1="745.93" y1="407.8" x2="745.93" y2="411.8" stroke="#000" stroke-width="1.5"/>
<line x1="776.47" y1="407.8" x2="776.47" y2="411.8" stroke="#000" stroke-width="1.5"/>
<line x1="807.01" y1="407.8" x2="807.01" y2="414.8" stroke="#000" stroke-width="1.5"/>
<line x1="837.55" y1="407.8" x2="837.55" y2="411.8" stroke="#000" stroke-width="1.5"/>
<line x1="868.09" y1="407.8" x2="868.09" y2="411.8" stroke="#000" stroke-width="1.5"/>
<line x1="898.63" y1="407.8" x2="898.63" y2="411.8" stroke="#000" stroke-width="1.5"/>
<line x1="929.17" y1="407.8" x2="929.17" y2="411.8" stroke="#000" stroke-width="1.5"/>
<line x1="959.71" y1="407.8" x2="959.71" y2="411.8" stroke="#000" stroke-width="1.5"/>
<line x1="990.25" y1="407.8" x2="990.25" y2="411.8" stroke="#000" stroke-width="1.5"/>
<line x1="1020.79" y1="407.8" x2="1020.79" y2="414.8" stroke="#000" stroke-width="1.5"/>
<line x1="1051.33" y1="407.8" x2="1051.33" y2="411.8" stroke="#000" stroke-width="1.5"/>
<line x1="1081.87" y1="407.8" x2="1081.87" y2="411.8" stroke="#000" stroke-width="1.5"/>
<line x1="1112.41" y1="407.8" x2="1112.41" y2="411.8" stroke="#000" stroke-width="1.5"/>
<line x1="1142.95" y1="407.8" x2="1142.95" y2="411.8" stroke="#000" stroke-width="1.5"/>
<line x1="1173.49" y1="407.8" x2="1173.49" y2="411.8" stroke="#000" stroke-width="1.5"/>
<text x="160.63" y="438.6" font-size="17.5" text-anchor="middle">12/03/18</text>
<text x="374.33" y="438.6" font-size="17.5" text-anchor="middle">26/03/18</text>
<text x="588.03" y="438.6" font-size="17.5" text-anchor="middle">9/04/18</text>
<text x="801.72" y="438.6" font-size="17.5" text-anchor="middle">23/04/18</text>
<text x="1015.42" y="438.6" font-size="17.5" text-anchor="middle">7/05/18</text>
<text x="19.6" y="209" font-size="21.1" text-anchor="middle" transform="rotate(-90 19.6 209)">Depth threshold (m)</text>
<text x="0.4" y="23.8" font-size="31.2" font-weight="bold" stroke="none">A</text>
<line x1="1057.5" y1="30.6" x2="1097.5" y2="30.6" stroke="#c2202c" stroke-width="1.35"/>
<circle cx="1077.6" cy="30.6" r="5" fill="#f4101a" stroke="#000" stroke-width="1.5"/>
<text x="1107.6" y="37.3" font-size="17.5">Wairepo</text>
<line x1="1057.5" y1="50.4" x2="1097.5" y2="50.4" stroke="#d8942a" stroke-width="1.35"/>
<circle cx="1077.6" cy="50.4" r="5" fill="#f88d12" stroke="#000" stroke-width="1.5"/>
<text x="1107.6" y="57.1" font-size="17.5">Omihi</text>
<line x1="1057.5" y1="70.4" x2="1097.5" y2="70.4" stroke="#2a982e" stroke-width="1.35"/>
<polygon points="1072.95,67.9 1082.25,67.9 1077.6,76" fill="#1ea62c" stroke="#000" stroke-width="1.5" stroke-linejoin="miter"/>
<text x="1107.6" y="77.1" font-size="17.5">Oaro</text>
<line x1="1057.5" y1="90.2" x2="1097.5" y2="90.2" stroke="#c790d6" stroke-width="1.35"/>
<polygon points="1072.95,87.7 1082.25,87.7 1077.6,95.8" fill="#a98ff1" stroke="#000" stroke-width="1.5" stroke-linejoin="miter"/>
<text x="1107.6" y="96.9" font-size="17.5">Waipapa</text>
</g>
<g id="panelB">
<rect x="73.3" y="459.9" width="1115.45" height="396.85" fill="none" stroke="#000" stroke-width="1.5"/>
<line x1="66.7" y1="856.75" x2="73.3" y2="856.75" stroke="#000" stroke-width="1.5"/>
<text x="58.6" y="862.45" font-size="17.5" text-anchor="end">0</text>
<line x1="1188.75" y1="856.75" x2="1195.25" y2="856.75" stroke="#000" stroke-width="1.5"/>
<text x="1203.2" y="862.15" font-size="17.5">0</text>
<line x1="66.7" y1="790.61" x2="73.3" y2="790.61" stroke="#000" stroke-width="1.5"/>
<text x="58.6" y="796.31" font-size="17.5" text-anchor="end">1</text>
<line x1="1188.75" y1="790.61" x2="1195.25" y2="790.61" stroke="#000" stroke-width="1.5"/>
<text x="1203.2" y="796.01" font-size="17.5">20</text>
<line x1="66.7" y1="724.47" x2="73.3" y2="724.47" stroke="#000" stroke-width="1.5"/>
<text x="58.6" y="730.17" font-size="17.5" text-anchor="end">2</text>
<line x1="1188.75" y1="724.47" x2="1195.25" y2="724.47" stroke="#000" stroke-width="1.5"/>
<text x="1203.2" y="729.87" font-size="17.5">40</text>
<line x1="66.7" y1="658.32" x2="73.3" y2="658.32" stroke="#000" stroke-width="1.5"/>
<text x="58.6" y="664.02" font-size="17.5" text-anchor="end">3</text>
<line x1="1188.75" y1="658.32" x2="1195.25" y2="658.32" stroke="#000" stroke-width="1.5"/>
<text x="1203.2" y="663.72" font-size="17.5">60</text>
<line x1="66.7" y1="592.18" x2="73.3" y2="592.18" stroke="#000" stroke-width="1.5"/>
<text x="58.6" y="597.88" font-size="17.5" text-anchor="end">4</text>
<line x1="1188.75" y1="592.18" x2="1195.25" y2="592.18" stroke="#000" stroke-width="1.5"/>
<text x="1203.2" y="597.58" font-size="17.5">80</text>
<line x1="66.7" y1="526.04" x2="73.3" y2="526.04" stroke="#000" stroke-width="1.5"/>
<text x="58.6" y="531.74" font-size="17.5" text-anchor="end">5</text>
<line x1="1188.75" y1="526.04" x2="1195.25" y2="526.04" stroke="#000" stroke-width="1.5"/>
<text x="1203.2" y="531.44" font-size="17.5">100</text>
<line x1="66.7" y1="459.9" x2="73.3" y2="459.9" stroke="#000" stroke-width="1.5"/>
<text x="58.6" y="465.6" font-size="17.5" text-anchor="end">6</text>
<line x1="1188.75" y1="459.9" x2="1195.25" y2="459.9" stroke="#000" stroke-width="1.5"/>
<text x="1203.2" y="465.3" font-size="17.5">120</text>
<line x1="73.3" y1="856.75" x2="73.3" y2="860.75" stroke="#000" stroke-width="1.5"/>
<line x1="103.84" y1="856.75" x2="103.84" y2="860.75" stroke="#000" stroke-width="1.5"/>
<line x1="134.38" y1="856.75" x2="134.38" y2="860.75" stroke="#000" stroke-width="1.5"/>
<line x1="164.92" y1="856.75" x2="164.92" y2="863.75" stroke="#000" stroke-width="1.5"/>
<line x1="195.46" y1="856.75" x2="195.46" y2="860.75" stroke="#000" stroke-width="1.5"/>
<line x1="226" y1="856.75" x2="226" y2="860.75" stroke="#000" stroke-width="1.5"/>
<line x1="256.54" y1="856.75" x2="256.54" y2="860.75" stroke="#000" stroke-width="1.5"/>
<line x1="287.08" y1="856.75" x2="287.08" y2="860.75" stroke="#000" stroke-width="1.5"/>
<line x1="317.62" y1="856.75" x2="317.62" y2="860.75" stroke="#000" stroke-width="1.5"/>
<line x1="348.16" y1="856.75" x2="348.16" y2="860.75" stroke="#000" stroke-width="1.5"/>
<line x1="378.7" y1="856.75" x2="378.7" y2="863.75" stroke="#000" stroke-width="1.5"/>
<line x1="409.24" y1="856.75" x2="409.24" y2="860.75" stroke="#000" stroke-width="1.5"/>
<line x1="439.78" y1="856.75" x2="439.78" y2="860.75" stroke="#000" stroke-width="1.5"/>
<line x1="470.32" y1="856.75" x2="470.32" y2="860.75" stroke="#000" stroke-width="1.5"/>
<line x1="500.86" y1="856.75" x2="500.86" y2="860.75" stroke="#000" stroke-width="1.5"/>
<line x1="531.4" y1="856.75" x2="531.4" y2="860.75" stroke="#000" stroke-width="1.5"/>
<line x1="561.94" y1="856.75" x2="561.94" y2="860.75" stroke="#000" stroke-width="1.5"/>
<line x1="592.48" y1="856.75" x2="592.48" y2="863.75" stroke="#000" stroke-width="1.5"/>
<line x1="623.02" y1="856.75" x2="623.02" y2="860.75" stroke="#000" stroke-width="1.5"/>
<line x1="653.56" y1="856.75" x2="653.56" y2="860.75" stroke="#000" stroke-width="1.5"/>
<line x1="684.1" y1="856.75" x2="684.1" y2="860.75" stroke="#000" stroke-width="1.5"/>
<line x1="714.64" y1="856.75" x2="714.64" y2="860.75" stroke="#000" stroke-width="1.5"/>
<line x1="745.18" y1="856.75" x2="745.18" y2="860.75" stroke="#000" stroke-width="1.5"/>
<line x1="775.72" y1="856.75" x2="775.72" y2="860.75" stroke="#000" stroke-width="1.5"/>
<line x1="806.26" y1="856.75" x2="806.26" y2="863.75" stroke="#000" stroke-width="1.5"/>
<line x1="836.8" y1="856.75" x2="836.8" y2="860.75" stroke="#000" stroke-width="1.5"/>
<line x1="867.34" y1="856.75" x2="867.34" y2="860.75" stroke="#000" stroke-width="1.5"/>
<line x1="897.88" y1="856.75" x2="897.88" y2="860.75" stroke="#000" stroke-width="1.5"/>
<line x1="928.42" y1="856.75" x2="928.42" y2="860.75" stroke="#000" stroke-width="1.5"/>
<line x1="958.96" y1="856.75" x2="958.96" y2="860.75" stroke="#000" stroke-width="1.5"/>
<line x1="989.5" y1="856.75" x2="989.5" y2="860.75" stroke="#000" stroke-width="1.5"/>
<line x1="1020.04" y1="856.75" x2="1020.04" y2="863.75" stroke="#000" stroke-width="1.5"/>
<line x1="1050.58" y1="856.75" x2="1050.58" y2="860.75" stroke="#000" stroke-width="1.5"/>
<line x1="1081.12" y1="856.75" x2="1081.12" y2="860.75" stroke="#000" stroke-width="1.5"/>
<line x1="1111.66" y1="856.75" x2="1111.66" y2="860.75" stroke="#000" stroke-width="1.5"/>
<line x1="1142.2" y1="856.75" x2="1142.2" y2="860.75" stroke="#000" stroke-width="1.5"/>
<line x1="1172.74" y1="856.75" x2="1172.74" y2="860.75" stroke="#000" stroke-width="1.5"/>
<text x="160.63" y="886.9" font-size="17.5" text-anchor="middle">12/03/18</text>
<text x="374.33" y="886.9" font-size="17.5" text-anchor="middle">26/03/18</text>
<text x="588.03" y="886.9" font-size="17.5" text-anchor="middle">9/04/18</text>
<text x="801.72" y="886.9" font-size="17.5" text-anchor="middle">23/04/18</text>
<text x="1015.42" y="886.9" font-size="17.5" text-anchor="middle">7/05/18</text>
<text x="631" y="925.6" font-size="21.1" text-anchor="middle">Date</text>
<text x="28.6" y="657.5" font-size="21.1" text-anchor="middle" transform="rotate(-90 28.6 657.5)">Significant wave height (m)</text>
<text x="1267.4" y="657.8" font-size="21.1" text-anchor="middle" transform="rotate(-90 1267.4 657.8)">Rainfall (mm)</text>
<text x="0" y="465.2" font-size="31.2" font-weight="bold" stroke="none">B</text>
<g class="hs">
<polyline points="73.3,754.25 88.58,730 103.85,720 119.12,698.5 134.4,709.25 149.68,672 164.95,720.25 180.22,638.75 195.5,555.75 210.77,661.5 226.05,766 241.32,783.25 256.6,767.5 271.88,752.25 287.15,769.5 302.43,775.25 317.7,761.25" fill="none" stroke="#000" stroke-width="1.3" stroke-linejoin="round"/>
<polyline points="424.62,770.25 439.9,770 455.18,774.25 470.45,786.25 485.73,787.5 501,777.5 516.27,754.5 531.55,639.5 546.83,618.25 562.1,615 577.38,742.5 592.65,760.5 607.92,763.75 623.2,766.25 638.48,731.5 653.75,707 669.02,735 684.3,732.5 699.57,734.75 714.85,733.25 730.12,744 745.4,752.25 760.67,760.75 775.95,774.75 791.23,726.5 806.5,693.25 821.77,621 837.05,750.5 852.32,726.75 867.6,783 882.88,762.5 898.15,740.75 913.42,732 928.7,746 943.98,782.5 959.25,776.25 974.52,762.5 989.8,762.75 1005.07,758.5 1020.35,780.25 1035.62,795.75 1050.9,771 1066.17,780.5 1081.45,783.25 1096.73,768.5 1112,755 1127.28,812.5 1142.55,812.25" fill="none" stroke="#000" stroke-width="1.3" stroke-linejoin="round"/>
<line x1="73.3" y1="748.75" x2="73.3" y2="759.25" stroke="#000" stroke-width="1.3"/>
<line x1="66.8" y1="748.75" x2="79.8" y2="748.75" stroke="#000" stroke-width="1.3"/>
<line x1="66.8" y1="759.25" x2="79.8" y2="759.25" stroke="#000" stroke-width="1.3"/>
<line x1="88.58" y1="721.25" x2="88.58" y2="739.25" stroke="#000" stroke-width="1.3"/>
<line x1="82.08" y1="721.25" x2="95.08" y2="721.25" stroke="#000" stroke-width="1.3"/>
<line x1="82.08" y1="739.25" x2="95.08" y2="739.25" stroke="#000" stroke-width="1.3"/>
<line x1="103.85" y1="710" x2="103.85" y2="730" stroke="#000" stroke-width="1.3"/>
<line x1="97.35" y1="710" x2="110.35" y2="710" stroke="#000" stroke-width="1.3"/>
<line x1="97.35" y1="730" x2="110.35" y2="730" stroke="#000" stroke-width="1.3"/>
<line x1="119.12" y1="677" x2="119.12" y2="720.25" stroke="#000" stroke-width="1.3"/>
<line x1="112.62" y1="677" x2="125.62" y2="677" stroke="#000" stroke-width="1.3"/>
<line x1="112.62" y1="720.25" x2="125.62" y2="720.25" stroke="#000" stroke-width="1.3"/>
<line x1="134.4" y1="686.75" x2="134.4" y2="731" stroke="#000" stroke-width="1.3"/>
<line x1="127.9" y1="686.75" x2="140.9" y2="686.75" stroke="#000" stroke-width="1.3"/>
<line x1="127.9" y1="731" x2="140.9" y2="731" stroke="#000" stroke-width="1.3"/>
<line x1="149.68" y1="657" x2="149.68" y2="687" stroke="#000" stroke-width="1.3"/>
<line x1="143.18" y1="657" x2="156.18" y2="657" stroke="#000" stroke-width="1.3"/>
<line x1="143.18" y1="687" x2="156.18" y2="687" stroke="#000" stroke-width="1.3"/>
<line x1="164.95" y1="704" x2="164.95" y2="736.5" stroke="#000" stroke-width="1.3"/>
<line x1="158.45" y1="704" x2="171.45" y2="704" stroke="#000" stroke-width="1.3"/>
<line x1="158.45" y1="736.5" x2="171.45" y2="736.5" stroke="#000" stroke-width="1.3"/>
<line x1="180.22" y1="587.5" x2="180.22" y2="690" stroke="#000" stroke-width="1.3"/>
<line x1="173.72" y1="587.5" x2="186.72" y2="587.5" stroke="#000" stroke-width="1.3"/>
<line x1="173.72" y1="690" x2="186.72" y2="690" stroke="#000" stroke-width="1.3"/>
<line x1="195.5" y1="523.75" x2="195.5" y2="588" stroke="#000" stroke-width="1.3"/>
<line x1="189" y1="523.75" x2="202" y2="523.75" stroke="#000" stroke-width="1.3"/>
<line x1="189" y1="588" x2="202" y2="588" stroke="#000" stroke-width="1.3"/>
<line x1="210.77" y1="572.5" x2="210.77" y2="750.75" stroke="#000" stroke-width="1.3"/>
<line x1="204.27" y1="572.5" x2="217.27" y2="572.5" stroke="#000" stroke-width="1.3"/>
<line x1="204.27" y1="750.75" x2="217.27" y2="750.75" stroke="#000" stroke-width="1.3"/>
<line x1="226.05" y1="756.25" x2="226.05" y2="775" stroke="#000" stroke-width="1.3"/>
<line x1="219.55" y1="756.25" x2="232.55" y2="756.25" stroke="#000" stroke-width="1.3"/>
<line x1="219.55" y1="775" x2="232.55" y2="775" stroke="#000" stroke-width="1.3"/>
<line x1="241.32" y1="763.25" x2="241.32" y2="803.25" stroke="#000" stroke-width="1.3"/>
<line x1="234.82" y1="763.25" x2="247.82" y2="763.25" stroke="#000" stroke-width="1.3"/>
<line x1="234.82" y1="803.25" x2="247.82" y2="803.25" stroke="#000" stroke-width="1.3"/>
<line x1="256.6" y1="759.25" x2="256.6" y2="775.75" stroke="#000" stroke-width="1.3"/>
<line x1="250.1" y1="759.25" x2="263.1" y2="759.25" stroke="#000" stroke-width="1.3"/>
<line x1="250.1" y1="775.75" x2="263.1" y2="775.75" stroke="#000" stroke-width="1.3"/>
<line x1="271.88" y1="732.25" x2="271.88" y2="772" stroke="#000" stroke-width="1.3"/>
<line x1="265.38" y1="732.25" x2="278.38" y2="732.25" stroke="#000" stroke-width="1.3"/>
<line x1="265.38" y1="772" x2="278.38" y2="772" stroke="#000" stroke-width="1.3"/>
<line x1="287.15" y1="763.25" x2="287.15" y2="776" stroke="#000" stroke-width="1.3"/>
<line x1="280.65" y1="763.25" x2="293.65" y2="763.25" stroke="#000" stroke-width="1.3"/>
<line x1="280.65" y1="776" x2="293.65" y2="776" stroke="#000" stroke-width="1.3"/>
<line x1="302.43" y1="771.75" x2="302.43" y2="779.5" stroke="#000" stroke-width="1.3"/>
<line x1="295.93" y1="771.75" x2="308.93" y2="771.75" stroke="#000" stroke-width="1.3"/>
<line x1="295.93" y1="779.5" x2="308.93" y2="779.5" stroke="#000" stroke-width="1.3"/>
<line x1="317.7" y1="746.5" x2="317.7" y2="775.75" stroke="#000" stroke-width="1.3"/>
<line x1="311.2" y1="746.5" x2="324.2" y2="746.5" stroke="#000" stroke-width="1.3"/>
<line x1="311.2" y1="775.75" x2="324.2" y2="775.75" stroke="#000" stroke-width="1.3"/>
<line x1="424.62" y1="746.5" x2="424.62" y2="794.75" stroke="#000" stroke-width="1.3"/>
<line x1="418.12" y1="746.5" x2="431.12" y2="746.5" stroke="#000" stroke-width="1.3"/>
<line x1="418.12" y1="794.75" x2="431.12" y2="794.75" stroke="#000" stroke-width="1.3"/>
<line x1="439.9" y1="760.5" x2="439.9" y2="780.5" stroke="#000" stroke-width="1.3"/>
<line x1="433.4" y1="760.5" x2="446.4" y2="760.5" stroke="#000" stroke-width="1.3"/>
<line x1="433.4" y1="780.5" x2="446.4" y2="780.5" stroke="#000" stroke-width="1.3"/>
<line x1="455.18" y1="767.5" x2="455.18" y2="781.5" stroke="#000" stroke-width="1.3"/>
<line x1="448.68" y1="767.5" x2="461.68" y2="767.5" stroke="#000" stroke-width="1.3"/>
<line x1="448.68" y1="781.5" x2="461.68" y2="781.5" stroke="#000" stroke-width="1.3"/>
<line x1="470.45" y1="783.25" x2="470.45" y2="789.5" stroke="#000" stroke-width="1.3"/>
<line x1="463.95" y1="783.25" x2="476.95" y2="783.25" stroke="#000" stroke-width="1.3"/>
<line x1="463.95" y1="789.5" x2="476.95" y2="789.5" stroke="#000" stroke-width="1.3"/>
<line x1="485.73" y1="784" x2="485.73" y2="791" stroke="#000" stroke-width="1.3"/>
<line x1="479.23" y1="784" x2="492.23" y2="784" stroke="#000" stroke-width="1.3"/>
<line x1="479.23" y1="791" x2="492.23" y2="791" stroke="#000" stroke-width="1.3"/>
<line x1="501" y1="771.5" x2="501" y2="783.5" stroke="#000" stroke-width="1.3"/>
<line x1="494.5" y1="771.5" x2="507.5" y2="771.5" stroke="#000" stroke-width="1.3"/>
<line x1="494.5" y1="783.5" x2="507.5" y2="783.5" stroke="#000" stroke-width="1.3"/>
<line x1="516.27" y1="740.5" x2="516.27" y2="768.75" stroke="#000" stroke-width="1.3"/>
<line x1="509.77" y1="740.5" x2="522.77" y2="740.5" stroke="#000" stroke-width="1.3"/>
<line x1="509.77" y1="768.75" x2="522.77" y2="768.75" stroke="#000" stroke-width="1.3"/>
<line x1="531.55" y1="594.25" x2="531.55" y2="685" stroke="#000" stroke-width="1.3"/>
<line x1="525.05" y1="594.25" x2="538.05" y2="594.25" stroke="#000" stroke-width="1.3"/>
<line x1="525.05" y1="685" x2="538.05" y2="685" stroke="#000" stroke-width="1.3"/>
<line x1="546.83" y1="576.25" x2="546.83" y2="660.75" stroke="#000" stroke-width="1.3"/>
<line x1="540.33" y1="576.25" x2="553.33" y2="576.25" stroke="#000" stroke-width="1.3"/>
<line x1="540.33" y1="660.75" x2="553.33" y2="660.75" stroke="#000" stroke-width="1.3"/>
<line x1="562.1" y1="572" x2="562.1" y2="658.5" stroke="#000" stroke-width="1.3"/>
<line x1="555.6" y1="572" x2="568.6" y2="572" stroke="#000" stroke-width="1.3"/>
<line x1="555.6" y1="658.5" x2="568.6" y2="658.5" stroke="#000" stroke-width="1.3"/>
<line x1="577.38" y1="720.75" x2="577.38" y2="765" stroke="#000" stroke-width="1.3"/>
<line x1="570.88" y1="720.75" x2="583.88" y2="720.75" stroke="#000" stroke-width="1.3"/>
<line x1="570.88" y1="765" x2="583.88" y2="765" stroke="#000" stroke-width="1.3"/>
<line x1="592.65" y1="751.25" x2="592.65" y2="770" stroke="#000" stroke-width="1.3"/>
<line x1="586.15" y1="751.25" x2="599.15" y2="751.25" stroke="#000" stroke-width="1.3"/>
<line x1="586.15" y1="770" x2="599.15" y2="770" stroke="#000" stroke-width="1.3"/>
<line x1="607.92" y1="755.25" x2="607.92" y2="772" stroke="#000" stroke-width="1.3"/>
<line x1="601.42" y1="755.25" x2="614.42" y2="755.25" stroke="#000" stroke-width="1.3"/>
<line x1="601.42" y1="772" x2="614.42" y2="772" stroke="#000" stroke-width="1.3"/>
<line x1="623.2" y1="760" x2="623.2" y2="772" stroke="#000" stroke-width="1.3"/>
<line x1="616.7" y1="760" x2="629.7" y2="760" stroke="#000" stroke-width="1.3"/>
<line x1="616.7" y1="772" x2="629.7" y2="772" stroke="#000" stroke-width="1.3"/>
<line x1="638.48" y1="715.25" x2="638.48" y2="747.75" stroke="#000" stroke-width="1.3"/>
<line x1="631.98" y1="715.25" x2="644.98" y2="715.25" stroke="#000" stroke-width="1.3"/>
<line x1="631.98" y1="747.75" x2="644.98" y2="747.75" stroke="#000" stroke-width="1.3"/>
<line x1="653.75" y1="696.5" x2="653.75" y2="718" stroke="#000" stroke-width="1.3"/>
<line x1="647.25" y1="696.5" x2="660.25" y2="696.5" stroke="#000" stroke-width="1.3"/>
<line x1="647.25" y1="718" x2="660.25" y2="718" stroke="#000" stroke-width="1.3"/>
<line x1="669.02" y1="723" x2="669.02" y2="747.5" stroke="#000" stroke-width="1.3"/>
<line x1="662.52" y1="723" x2="675.52" y2="723" stroke="#000" stroke-width="1.3"/>
<line x1="662.52" y1="747.5" x2="675.52" y2="747.5" stroke="#000" stroke-width="1.3"/>
<line x1="684.3" y1="716.75" x2="684.3" y2="748" stroke="#000" stroke-width="1.3"/>
<line x1="677.8" y1="716.75" x2="690.8" y2="716.75" stroke="#000" stroke-width="1.3"/>
<line x1="677.8" y1="748" x2="690.8" y2="748" stroke="#000" stroke-width="1.3"/>
<line x1="699.57" y1="720.5" x2="699.57" y2="749.25" stroke="#000" stroke-width="1.3"/>
<line x1="693.07" y1="720.5" x2="706.07" y2="720.5" stroke="#000" stroke-width="1.3"/>
<line x1="693.07" y1="749.25" x2="706.07" y2="749.25" stroke="#000" stroke-width="1.3"/>
<line x1="714.85" y1="713.25" x2="714.85" y2="753.75" stroke="#000" stroke-width="1.3"/>
<line x1="708.35" y1="713.25" x2="721.35" y2="713.25" stroke="#000" stroke-width="1.3"/>
<line x1="708.35" y1="753.75" x2="721.35" y2="753.75" stroke="#000" stroke-width="1.3"/>
<line x1="730.12" y1="733.75" x2="730.12" y2="754.75" stroke="#000" stroke-width="1.3"/>
<line x1="723.62" y1="733.75" x2="736.62" y2="733.75" stroke="#000" stroke-width="1.3"/>
<line x1="723.62" y1="754.75" x2="736.62" y2="754.75" stroke="#000" stroke-width="1.3"/>
<line x1="745.4" y1="743.75" x2="745.4" y2="760.75" stroke="#000" stroke-width="1.3"/>
<line x1="738.9" y1="743.75" x2="751.9" y2="743.75" stroke="#000" stroke-width="1.3"/>
<line x1="738.9" y1="760.75" x2="751.9" y2="760.75" stroke="#000" stroke-width="1.3"/>
<line x1="760.67" y1="742" x2="760.67" y2="780" stroke="#000" stroke-width="1.3"/>
<line x1="754.17" y1="742" x2="767.17" y2="742" stroke="#000" stroke-width="1.3"/>
<line x1="754.17" y1="780" x2="767.17" y2="780" stroke="#000" stroke-width="1.3"/>
<line x1="775.95" y1="761" x2="775.95" y2="789" stroke="#000" stroke-width="1.3"/>
<line x1="769.45" y1="761" x2="782.45" y2="761" stroke="#000" stroke-width="1.3"/>
<line x1="769.45" y1="789" x2="782.45" y2="789" stroke="#000" stroke-width="1.3"/>
<line x1="791.23" y1="710.5" x2="791.23" y2="742" stroke="#000" stroke-width="1.3"/>
<line x1="784.73" y1="710.5" x2="797.73" y2="710.5" stroke="#000" stroke-width="1.3"/>
<line x1="784.73" y1="742" x2="797.73" y2="742" stroke="#000" stroke-width="1.3"/>
<line x1="806.5" y1="648.25" x2="806.5" y2="738.5" stroke="#000" stroke-width="1.3"/>
<line x1="800" y1="648.25" x2="813" y2="648.25" stroke="#000" stroke-width="1.3"/>
<line x1="800" y1="738.5" x2="813" y2="738.5" stroke="#000" stroke-width="1.3"/>
<line x1="821.77" y1="527.5" x2="821.77" y2="714.75" stroke="#000" stroke-width="1.3"/>
<line x1="815.27" y1="527.5" x2="828.27" y2="527.5" stroke="#000" stroke-width="1.3"/>
<line x1="815.27" y1="714.75" x2="828.27" y2="714.75" stroke="#000" stroke-width="1.3"/>
<line x1="837.05" y1="730" x2="837.05" y2="771" stroke="#000" stroke-width="1.3"/>
<line x1="830.55" y1="730" x2="843.55" y2="730" stroke="#000" stroke-width="1.3"/>
<line x1="830.55" y1="771" x2="843.55" y2="771" stroke="#000" stroke-width="1.3"/>
<line x1="852.32" y1="696.75" x2="852.32" y2="756.25" stroke="#000" stroke-width="1.3"/>
<line x1="845.82" y1="696.75" x2="858.82" y2="696.75" stroke="#000" stroke-width="1.3"/>
<line x1="845.82" y1="756.25" x2="858.82" y2="756.25" stroke="#000" stroke-width="1.3"/>
<line x1="867.6" y1="771.25" x2="867.6" y2="794.75" stroke="#000" stroke-width="1.3"/>
<line x1="861.1" y1="771.25" x2="874.1" y2="771.25" stroke="#000" stroke-width="1.3"/>
<line x1="861.1" y1="794.75" x2="874.1" y2="794.75" stroke="#000" stroke-width="1.3"/>
<line x1="882.88" y1="755.25" x2="882.88" y2="769.5" stroke="#000" stroke-width="1.3"/>
<line x1="876.38" y1="755.25" x2="889.38" y2="755.25" stroke="#000" stroke-width="1.3"/>
<line x1="876.38" y1="769.5" x2="889.38" y2="769.5" stroke="#000" stroke-width="1.3"/>
<line x1="898.15" y1="731.5" x2="898.15" y2="750.5" stroke="#000" stroke-width="1.3"/>
<line x1="891.65" y1="731.5" x2="904.65" y2="731.5" stroke="#000" stroke-width="1.3"/>
<line x1="891.65" y1="750.5" x2="904.65" y2="750.5" stroke="#000" stroke-width="1.3"/>
<line x1="913.42" y1="722.5" x2="913.42" y2="740.75" stroke="#000" stroke-width="1.3"/>
<line x1="906.92" y1="722.5" x2="919.92" y2="722.5" stroke="#000" stroke-width="1.3"/>
<line x1="906.92" y1="740.75" x2="919.92" y2="740.75" stroke="#000" stroke-width="1.3"/>
<line x1="928.7" y1="731.5" x2="928.7" y2="760.75" stroke="#000" stroke-width="1.3"/>
<line x1="922.2" y1="731.5" x2="935.2" y2="731.5" stroke="#000" stroke-width="1.3"/>
<line x1="922.2" y1="760.75" x2="935.2" y2="760.75" stroke="#000" stroke-width="1.3"/>
<line x1="943.98" y1="755.75" x2="943.98" y2="808.5" stroke="#000" stroke-width="1.3"/>
<line x1="937.48" y1="755.75" x2="950.48" y2="755.75" stroke="#000" stroke-width="1.3"/>
<line x1="937.48" y1="808.5" x2="950.48" y2="808.5" stroke="#000" stroke-width="1.3"/>
<line x1="959.25" y1="763.25" x2="959.25" y2="788.75" stroke="#000" stroke-width="1.3"/>
<line x1="952.75" y1="763.25" x2="965.75" y2="763.25" stroke="#000" stroke-width="1.3"/>
<line x1="952.75" y1="788.75" x2="965.75" y2="788.75" stroke="#000" stroke-width="1.3"/>
<line x1="974.52" y1="753.25" x2="974.52" y2="771.75" stroke="#000" stroke-width="1.3"/>
<line x1="968.02" y1="753.25" x2="981.02" y2="753.25" stroke="#000" stroke-width="1.3"/>
<line x1="968.02" y1="771.75" x2="981.02" y2="771.75" stroke="#000" stroke-width="1.3"/>
<line x1="989.8" y1="756.5" x2="989.8" y2="768.25" stroke="#000" stroke-width="1.3"/>
<line x1="983.3" y1="756.5" x2="996.3" y2="756.5" stroke="#000" stroke-width="1.3"/>
<line x1="983.3" y1="768.25" x2="996.3" y2="768.25" stroke="#000" stroke-width="1.3"/>
<line x1="1005.07" y1="748.25" x2="1005.07" y2="768.25" stroke="#000" stroke-width="1.3"/>
<line x1="998.57" y1="748.25" x2="1011.57" y2="748.25" stroke="#000" stroke-width="1.3"/>
<line x1="998.57" y1="768.25" x2="1011.57" y2="768.25" stroke="#000" stroke-width="1.3"/>
<line x1="1020.35" y1="775.25" x2="1020.35" y2="785" stroke="#000" stroke-width="1.3"/>
<line x1="1013.85" y1="775.25" x2="1026.85" y2="775.25" stroke="#000" stroke-width="1.3"/>
<line x1="1013.85" y1="785" x2="1026.85" y2="785" stroke="#000" stroke-width="1.3"/>
<line x1="1035.62" y1="788.25" x2="1035.62" y2="803.25" stroke="#000" stroke-width="1.3"/>
<line x1="1029.12" y1="788.25" x2="1042.12" y2="788.25" stroke="#000" stroke-width="1.3"/>
<line x1="1029.12" y1="803.25" x2="1042.12" y2="803.25" stroke="#000" stroke-width="1.3"/>
<line x1="1050.9" y1="764" x2="1050.9" y2="777" stroke="#000" stroke-width="1.3"/>
<line x1="1044.4" y1="764" x2="1057.4" y2="764" stroke="#000" stroke-width="1.3"/>
<line x1="1044.4" y1="777" x2="1057.4" y2="777" stroke="#000" stroke-width="1.3"/>
<line x1="1066.17" y1="763.5" x2="1066.17" y2="797.25" stroke="#000" stroke-width="1.3"/>
<line x1="1059.67" y1="763.5" x2="1072.67" y2="763.5" stroke="#000" stroke-width="1.3"/>
<line x1="1059.67" y1="797.25" x2="1072.67" y2="797.25" stroke="#000" stroke-width="1.3"/>
<line x1="1081.45" y1="777" x2="1081.45" y2="789" stroke="#000" stroke-width="1.3"/>
<line x1="1074.95" y1="777" x2="1087.95" y2="777" stroke="#000" stroke-width="1.3"/>
<line x1="1074.95" y1="789" x2="1087.95" y2="789" stroke="#000" stroke-width="1.3"/>
<line x1="1096.73" y1="762" x2="1096.73" y2="774.75" stroke="#000" stroke-width="1.3"/>
<line x1="1090.23" y1="762" x2="1103.23" y2="762" stroke="#000" stroke-width="1.3"/>
<line x1="1090.23" y1="774.75" x2="1103.23" y2="774.75" stroke="#000" stroke-width="1.3"/>
<line x1="1112" y1="735.75" x2="1112" y2="774.25" stroke="#000" stroke-width="1.3"/>
<line x1="1105.5" y1="735.75" x2="1118.5" y2="735.75" stroke="#000" stroke-width="1.3"/>
<line x1="1105.5" y1="774.25" x2="1118.5" y2="774.25" stroke="#000" stroke-width="1.3"/>
<line x1="1127.28" y1="808" x2="1127.28" y2="817" stroke="#000" stroke-width="1.3"/>
<line x1="1120.78" y1="808" x2="1133.78" y2="808" stroke="#000" stroke-width="1.3"/>
<line x1="1120.78" y1="817" x2="1133.78" y2="817" stroke="#000" stroke-width="1.3"/>
<line x1="1142.55" y1="808.75" x2="1142.55" y2="816.5" stroke="#000" stroke-width="1.3"/>
<line x1="1136.05" y1="808.75" x2="1149.05" y2="808.75" stroke="#000" stroke-width="1.3"/>
<line x1="1136.05" y1="816.5" x2="1149.05" y2="816.5" stroke="#000" stroke-width="1.3"/>
<circle cx="73.3" cy="754.25" r="5.5" fill="#000" stroke="#000" stroke-width="0.6"/>
<circle cx="88.58" cy="730" r="5.5" fill="#000" stroke="#000" stroke-width="0.6"/>
<circle cx="103.85" cy="720" r="5.5" fill="#000" stroke="#000" stroke-width="0.6"/>
<circle cx="119.12" cy="698.5" r="5.5" fill="#000" stroke="#000" stroke-width="0.6"/>
<circle cx="134.4" cy="709.25" r="5.5" fill="#000" stroke="#000" stroke-width="0.6"/>
<circle cx="149.68" cy="672" r="5.5" fill="#000" stroke="#000" stroke-width="0.6"/>
<circle cx="164.95" cy="720.25" r="5.5" fill="#000" stroke="#000" stroke-width="0.6"/>
<circle cx="180.22" cy="638.75" r="5.5" fill="#000" stroke="#000" stroke-width="0.6"/>
<circle cx="195.5" cy="555.75" r="5.5" fill="#000" stroke="#000" stroke-width="0.6"/>
<circle cx="210.77" cy="661.5" r="5.5" fill="#000" stroke="#000" stroke-width="0.6"/>
<circle cx="226.05" cy="766" r="5.5" fill="#000" stroke="#000" stroke-width="0.6"/>
<circle cx="241.32" cy="783.25" r="5.5" fill="#000" stroke="#000" stroke-width="0.6"/>
<circle cx="256.6" cy="767.5" r="5.5" fill="#000" stroke="#000" stroke-width="0.6"/>
<circle cx="271.88" cy="752.25" r="5.5" fill="#000" stroke="#000" stroke-width="0.6"/>
<circle cx="287.15" cy="769.5" r="5.5" fill="#000" stroke="#000" stroke-width="0.6"/>
<circle cx="302.43" cy="775.25" r="5.5" fill="#000" stroke="#000" stroke-width="0.6"/>
<circle cx="317.7" cy="761.25" r="5.5" fill="#000" stroke="#000" stroke-width="0.6"/>
<circle cx="424.62" cy="770.25" r="5.5" fill="#000" stroke="#000" stroke-width="0.6"/>
<circle cx="439.9" cy="770" r="5.5" fill="#000" stroke="#000" stroke-width="0.6"/>
<circle cx="455.18" cy="774.25" r="5.5" fill="#000" stroke="#000" stroke-width="0.6"/>
<circle cx="470.45" cy="786.25" r="5.5" fill="#000" stroke="#000" stroke-width="0.6"/>
<circle cx="485.73" cy="787.5" r="5.5" fill="#000" stroke="#000" stroke-width="0.6"/>
<circle cx="501" cy="777.5" r="5.5" fill="#000" stroke="#000" stroke-width="0.6"/>
<circle cx="516.27" cy="754.5" r="5.5" fill="#000" stroke="#000" stroke-width="0.6"/>
<circle cx="531.55" cy="639.5" r="5.5" fill="#000" stroke="#000" stroke-width="0.6"/>
<circle cx="546.83" cy="618.25" r="5.5" fill="#000" stroke="#000" stroke-width="0.6"/>
<circle cx="562.1" cy="615" r="5.5" fill="#000" stroke="#000" stroke-width="0.6"/>
<circle cx="577.38" cy="742.5" r="5.5" fill="#000" stroke="#000" stroke-width="0.6"/>
<circle cx="592.65" cy="760.5" r="5.5" fill="#000" stroke="#000" stroke-width="0.6"/>
<circle cx="607.92" cy="763.75" r="5.5" fill="#000" stroke="#000" stroke-width="0.6"/>
<circle cx="623.2" cy="766.25" r="5.5" fill="#000" stroke="#000" stroke-width="0.6"/>
<circle cx="638.48" cy="731.5" r="5.5" fill="#000" stroke="#000" stroke-width="0.6"/>
<circle cx="653.75" cy="707" r="5.5" fill="#000" stroke="#000" stroke-width="0.6"/>
<circle cx="669.02" cy="735" r="5.5" fill="#000" stroke="#000" stroke-width="0.6"/>
<circle cx="684.3" cy="732.5" r="5.5" fill="#000" stroke="#000" stroke-width="0.6"/>
<circle cx="699.57" cy="734.75" r="5.5" fill="#000" stroke="#000" stroke-width="0.6"/>
<circle cx="714.85" cy="733.25" r="5.5" fill="#000" stroke="#000" stroke-width="0.6"/>
<circle cx="730.12" cy="744" r="5.5" fill="#000" stroke="#000" stroke-width="0.6"/>
<circle cx="745.4" cy="752.25" r="5.5" fill="#000" stroke="#000" stroke-width="0.6"/>
<circle cx="760.67" cy="760.75" r="5.5" fill="#000" stroke="#000" stroke-width="0.6"/>
<circle cx="775.95" cy="774.75" r="5.5" fill="#000" stroke="#000" stroke-width="0.6"/>
<circle cx="791.23" cy="726.5" r="5.5" fill="#000" stroke="#000" stroke-width="0.6"/>
<circle cx="806.5" cy="693.25" r="5.5" fill="#000" stroke="#000" stroke-width="0.6"/>
<circle cx="821.77" cy="621" r="5.5" fill="#000" stroke="#000" stroke-width="0.6"/>
<circle cx="837.05" cy="750.5" r="5.5" fill="#000" stroke="#000" stroke-width="0.6"/>
<circle cx="852.32" cy="726.75" r="5.5" fill="#000" stroke="#000" stroke-width="0.6"/>
<circle cx="867.6" cy="783" r="5.5" fill="#000" stroke="#000" stroke-width="0.6"/>
<circle cx="882.88" cy="762.5" r="5.5" fill="#000" stroke="#000" stroke-width="0.6"/>
<circle cx="898.15" cy="740.75" r="5.5" fill="#000" stroke="#000" stroke-width="0.6"/>
<circle cx="913.42" cy="732" r="5.5" fill="#000" stroke="#000" stroke-width="0.6"/>
<circle cx="928.7" cy="746" r="5.5" fill="#000" stroke="#000" stroke-width="0.6"/>
<circle cx="943.98" cy="782.5" r="5.5" fill="#000" stroke="#000" stroke-width="0.6"/>
<circle cx="959.25" cy="776.25" r="5.5" fill="#000" stroke="#000" stroke-width="0.6"/>
<circle cx="974.52" cy="762.5" r="5.5" fill="#000" stroke="#000" stroke-width="0.6"/>
<circle cx="989.8" cy="762.75" r="5.5" fill="#000" stroke="#000" stroke-width="0.6"/>
<circle cx="1005.07" cy="758.5" r="5.5" fill="#000" stroke="#000" stroke-width="0.6"/>
<circle cx="1020.35" cy="780.25" r="5.5" fill="#000" stroke="#000" stroke-width="0.6"/>
<circle cx="1035.62" cy="795.75" r="5.5" fill="#000" stroke="#000" stroke-width="0.6"/>
<circle cx="1050.9" cy="771" r="5.5" fill="#000" stroke="#000" stroke-width="0.6"/>
<circle cx="1066.17" cy="780.5" r="5.5" fill="#000" stroke="#000" stroke-width="0.6"/>
<circle cx="1081.45" cy="783.25" r="5.5" fill="#000" stroke="#000" stroke-width="0.6"/>
<circle cx="1096.73" cy="768.5" r="5.5" fill="#000" stroke="#000" stroke-width="0.6"/>
<circle cx="1112" cy="755" r="5.5" fill="#000" stroke="#000" stroke-width="0.6"/>
<circle cx="1127.28" cy="812.5" r="5.5" fill="#000" stroke="#000" stroke-width="0.6"/>
<circle cx="1142.55" cy="812.25" r="5.5" fill="#000" stroke="#000" stroke-width="0.6"/>
</g>
<g class="rain">
<polyline points="73.3,741.75 88.58,778.75 103.85,852 119.12,772.25 134.4,853 149.68,857 164.95,857 180.22,857 195.5,857 210.77,857 226.05,833.25 241.32,830.5 256.6,855 271.88,857 287.15,857 302.43,857 317.7,815.5 332.98,837 348.25,854.75 363.53,857 378.8,857 394.08,857 409.35,857 424.62,857 439.9,857 455.18,857 470.45,857 485.73,857 501,857 516.27,857 531.55,855 546.83,855 562.1,845.25 577.38,857 592.65,752.5 607.92,830 623.2,828.75 638.48,821.75 653.75,857 669.02,853 684.3,857 699.57,837 714.85,855 730.12,855 745.4,857 760.67,857 775.95,855 791.23,853.25 806.5,857 821.77,857 837.05,857 852.32,857 867.6,857 882.88,845.25 898.15,837.25 913.42,835.5 928.7,850 943.98,832 959.25,857 974.52,857 989.8,857 1005.07,853.25 1020.35,857 1035.62,857 1050.9,857 1066.17,857 1081.45,857 1096.73,840 1112,780.75 1127.28,822 1142.55,823.5" fill="none" stroke="#000" stroke-width="1.3" stroke-linejoin="round"/>
<rect x="68.9" y="737.35" width="8.8" height="8.8" fill="#fff" stroke="#111" stroke-width="1.1"/>
<rect x="84.17" y="774.35" width="8.8" height="8.8" fill="#fff" stroke="#111" stroke-width="1.1"/>
<rect x="99.45" y="847.6" width="8.8" height="8.8" fill="#fff" stroke="#111" stroke-width="1.1"/>
<rect x="114.72" y="767.85" width="8.8" height="8.8" fill="#fff" stroke="#111" stroke-width="1.1"/>
<rect x="130" y="848.6" width="8.8" height="8.8" fill="#fff" stroke="#111" stroke-width="1.1"/>
<rect x="145.28" y="852.6" width="8.8" height="8.8" fill="#fff" stroke="#111" stroke-width="1.1"/>
<rect x="160.55" y="852.6" width="8.8" height="8.8" fill="#fff" stroke="#111" stroke-width="1.1"/>
<rect x="175.82" y="852.6" width="8.8" height="8.8" fill="#fff" stroke="#111" stroke-width="1.1"/>
<rect x="191.1" y="852.6" width="8.8" height="8.8" fill="#fff" stroke="#111" stroke-width="1.1"/>
<rect x="206.37" y="852.6" width="8.8" height="8.8" fill="#fff" stroke="#111" stroke-width="1.1"/>
<rect x="221.65" y="828.85" width="8.8" height="8.8" fill="#fff" stroke="#111" stroke-width="1.1"/>
<rect x="236.92" y="826.1" width="8.8" height="8.8" fill="#fff" stroke="#111" stroke-width="1.1"/>
<rect x="252.2" y="850.6" width="8.8" height="8.8" fill="#fff" stroke="#111" stroke-width="1.1"/>
<rect x="267.48" y="852.6" width="8.8" height="8.8" fill="#fff" stroke="#111" stroke-width="1.1"/>
<rect x="282.75" y="852.6" width="8.8" height="8.8" fill="#fff" stroke="#111" stroke-width="1.1"/>
<rect x="298.03" y="852.6" width="8.8" height="8.8" fill="#fff" stroke="#111" stroke-width="1.1"/>
<rect x="313.3" y="811.1" width="8.8" height="8.8" fill="#fff" stroke="#111" stroke-width="1.1"/>
<rect x="328.58" y="832.6" width="8.8" height="8.8" fill="#fff" stroke="#111" stroke-width="1.1"/>
<rect x="343.85" y="850.35" width="8.8" height="8.8" fill="#fff" stroke="#111" stroke-width="1.1"/>
<rect x="359.13" y="852.6" width="8.8" height="8.8" fill="#fff" stroke="#111" stroke-width="1.1"/>
<rect x="374.4" y="852.6" width="8.8" height="8.8" fill="#fff" stroke="#111" stroke-width="1.1"/>
<rect x="389.68" y="852.6" width="8.8" height="8.8" fill="#fff" stroke="#111" stroke-width="1.1"/>
<rect x="404.95" y="852.6" width="8.8" height="8.8" fill="#fff" stroke="#111" stroke-width="1.1"/>
<rect x="420.23" y="852.6" width="8.8" height="8.8" fill="#fff" stroke="#111" stroke-width="1.1"/>
<rect x="435.5" y="852.6" width="8.8" height="8.8" fill="#fff" stroke="#111" stroke-width="1.1"/>
<rect x="450.78" y="852.6" width="8.8" height="8.8" fill="#fff" stroke="#111" stroke-width="1.1"/>
<rect x="466.05" y="852.6" width="8.8" height="8.8" fill="#fff" stroke="#111" stroke-width="1.1"/>
<rect x="481.33" y="852.6" width="8.8" height="8.8" fill="#fff" stroke="#111" stroke-width="1.1"/>
<rect x="496.6" y="852.6" width="8.8" height="8.8" fill="#fff" stroke="#111" stroke-width="1.1"/>
<rect x="511.88" y="852.6" width="8.8" height="8.8" fill="#fff" stroke="#111" stroke-width="1.1"/>
<rect x="527.15" y="850.6" width="8.8" height="8.8" fill="#fff" stroke="#111" stroke-width="1.1"/>
<rect x="542.43" y="850.6" width="8.8" height="8.8" fill="#fff" stroke="#111" stroke-width="1.1"/>
<rect x="557.7" y="840.85" width="8.8" height="8.8" fill="#fff" stroke="#111" stroke-width="1.1"/>
<rect x="572.98" y="852.6" width="8.8" height="8.8" fill="#fff" stroke="#111" stroke-width="1.1"/>
<rect x="588.25" y="748.1" width="8.8" height="8.8" fill="#fff" stroke="#111" stroke-width="1.1"/>
<rect x="603.52" y="825.6" width="8.8" height="8.8" fill="#fff" stroke="#111" stroke-width="1.1"/>
<rect x="618.8" y="824.35" width="8.8" height="8.8" fill="#fff" stroke="#111" stroke-width="1.1"/>
<rect x="634.08" y="817.35" width="8.8" height="8.8" fill="#fff" stroke="#111" stroke-width="1.1"/>
<rect x="649.35" y="852.6" width="8.8" height="8.8" fill="#fff" stroke="#111" stroke-width="1.1"/>
<rect x="664.62" y="848.6" width="8.8" height="8.8" fill="#fff" stroke="#111" stroke-width="1.1"/>
<rect x="679.9" y="852.6" width="8.8" height="8.8" fill="#fff" stroke="#111" stroke-width="1.1"/>
<rect x="695.17" y="832.6" width="8.8" height="8.8" fill="#fff" stroke="#111" stroke-width="1.1"/>
<rect x="710.45" y="850.6" width="8.8" height="8.8" fill="#fff" stroke="#111" stroke-width="1.1"/>
<rect x="725.73" y="850.6" width="8.8" height="8.8" fill="#fff" stroke="#111" stroke-width="1.1"/>
<rect x="741" y="852.6" width="8.8" height="8.8" fill="#fff" stroke="#111" stroke-width="1.1"/>
<rect x="756.27" y="852.6" width="8.8" height="8.8" fill="#fff" stroke="#111" stroke-width="1.1"/>
<rect x="771.55" y="850.6" width="8.8" height="8.8" fill="#fff" stroke="#111" stroke-width="1.1"/>
<rect x="786.83" y="848.85" width="8.8" height="8.8" fill="#fff" stroke="#111" stroke-width="1.1"/>
<rect x="802.1" y="852.6" width="8.8" height="8.8" fill="#fff" stroke="#111" stroke-width="1.1"/>
<rect x="817.38" y="852.6" width="8.8" height="8.8" fill="#fff" stroke="#111" stroke-width="1.1"/>
<rect x="832.65" y="852.6" width="8.8" height="8.8" fill="#fff" stroke="#111" stroke-width="1.1"/>
<rect x="847.92" y="852.6" width="8.8" height="8.8" fill="#fff" stroke="#111" stroke-width="1.1"/>
<rect x="863.2" y="852.6" width="8.8" height="8.8" fill="#fff" stroke="#111" stroke-width="1.1"/>
<rect x="878.48" y="840.85" width="8.8" height="8.8" fill="#fff" stroke="#111" stroke-width="1.1"/>
<rect x="893.75" y="832.85" width="8.8" height="8.8" fill="#fff" stroke="#111" stroke-width="1.1"/>
<rect x="909.02" y="831.1" width="8.8" height="8.8" fill="#fff" stroke="#111" stroke-width="1.1"/>
<rect x="924.3" y="845.6" width="8.8" height="8.8" fill="#fff" stroke="#111" stroke-width="1.1"/>
<rect x="939.58" y="827.6" width="8.8" height="8.8" fill="#fff" stroke="#111" stroke-width="1.1"/>
<rect x="954.85" y="852.6" width="8.8" height="8.8" fill="#fff" stroke="#111" stroke-width="1.1"/>
<rect x="970.12" y="852.6" width="8.8" height="8.8" fill="#fff" stroke="#111" stroke-width="1.1"/>
<rect x="985.4" y="852.6" width="8.8" height="8.8" fill="#fff" stroke="#111" stroke-width="1.1"/>
<rect x="1000.67" y="848.85" width="8.8" height="8.8" fill="#fff" stroke="#111" stroke-width="1.1"/>
<rect x="1015.95" y="852.6" width="8.8" height="8.8" fill="#fff" stroke="#111" stroke-width="1.1"/>
<rect x="1031.22" y="852.6" width="8.8" height="8.8" fill="#fff" stroke="#111" stroke-width="1.1"/>
<rect x="1046.5" y="852.6" width="8.8" height="8.8" fill="#fff" stroke="#111" stroke-width="1.1"/>
<rect x="1061.77" y="852.6" width="8.8" height="8.8" fill="#fff" stroke="#111" stroke-width="1.1"/>
<rect x="1077.05" y="852.6" width="8.8" height="8.8" fill="#fff" stroke="#111" stroke-width="1.1"/>
<rect x="1092.33" y="835.6" width="8.8" height="8.8" fill="#fff" stroke="#111" stroke-width="1.1"/>
<rect x="1107.6" y="776.35" width="8.8" height="8.8" fill="#fff" stroke="#111" stroke-width="1.1"/>
<rect x="1122.88" y="817.6" width="8.8" height="8.8" fill="#fff" stroke="#111" stroke-width="1.1"/>
<rect x="1138.15" y="819.1" width="8.8" height="8.8" fill="#fff" stroke="#111" stroke-width="1.1"/>
</g>
<line x1="1002" y1="500.8" x2="1042" y2="500.8" stroke="#000" stroke-width="1.3"/>
<circle cx="1022" cy="500.8" r="5.5" fill="#000" stroke="#000" stroke-width="0.6"/>
<text x="1051.6" y="506.9" font-size="17.5">HS</text>
<line x1="1002" y1="520.8" x2="1042" y2="520.8" stroke="#000" stroke-width="1.3"/>
<rect x="1017.6" y="516.4" width="8.8" height="8.8" fill="#fff" stroke="#111" stroke-width="1.1"/>
<text x="1051.6" y="526.9" font-size="17.5" letter-spacing="0.22">Rainfall (mm)</text>
</g>
<g id="panelC">
<rect x="1288.1" y="13.2" width="95" height="89.6" fill="#b9b9fb" stroke="#111" stroke-width="1.15"/>
<rect x="1288.1" y="102.8" width="95" height="183.9" fill="#fddab7" stroke="#111" stroke-width="1.15"/>
<rect x="1288.1" y="286.7" width="95" height="122.9" fill="#fbb5b6" stroke="#111" stroke-width="1.15"/>
<line x1="1335.6" y1="409.6" x2="1335.6" y2="416.6" stroke="#000" stroke-width="1.5"/>
<text x="1335.8" y="437.3" font-size="17.5" text-anchor="middle">Waipapa</text>
<rect x="1411.9" y="13.2" width="95" height="72.85" fill="#b9b9fb" stroke="#111" stroke-width="1.15"/>
<rect x="1411.9" y="86.05" width="95" height="256.85" fill="#fddab7" stroke="#111" stroke-width="1.15"/>
<rect x="1411.9" y="342.9" width="95" height="66.7" fill="#fbb5b6" stroke="#111" stroke-width="1.15"/>
<line x1="1459.4" y1="409.6" x2="1459.4" y2="416.6" stroke="#000" stroke-width="1.5"/>
<text x="1459.6" y="437.3" font-size="17.5" text-anchor="middle">Omihi</text>
<rect x="1535.7" y="13.2" width="95" height="273.5" fill="#b9b9fb" stroke="#111" stroke-width="1.15"/>
<rect x="1535.7" y="286.7" width="95" height="106.4" fill="#fddab7" stroke="#111" stroke-width="1.15"/>
<rect x="1535.7" y="393.1" width="95" height="16.5" fill="#fbb5b6" stroke="#111" stroke-width="1.15"/>
<line x1="1583.2" y1="409.6" x2="1583.2" y2="416.6" stroke="#000" stroke-width="1.5"/>
<text x="1583.4" y="437.3" font-size="17.5" text-anchor="middle">Oaro</text>
<rect x="1659.7" y="13.2" width="95" height="301.75" fill="#b9b9fb" stroke="#111" stroke-width="1.15"/>
<rect x="1659.7" y="314.95" width="95" height="55.85" fill="#fddab7" stroke="#111" stroke-width="1.15"/>
<rect x="1659.7" y="370.8" width="95" height="38.8" fill="#fbb5b6" stroke="#111" stroke-width="1.15"/>
<line x1="1707.2" y1="409.6" x2="1707.2" y2="416.6" stroke="#000" stroke-width="1.5"/>
<text x="1707.4" y="437.3" font-size="17.5" text-anchor="middle">Wairepo</text>
<rect x="1273.9" y="13.2" width="494.8" height="396.4" fill="none" stroke="#000" stroke-width="1.5"/>
<line x1="1267.3" y1="409.6" x2="1273.9" y2="409.6" stroke="#000" stroke-width="1.5"/>
<text x="1258.4" y="415.7" font-size="17.5" text-anchor="end">0.0</text>
<line x1="1267.3" y1="330.32" x2="1273.9" y2="330.32" stroke="#000" stroke-width="1.5"/>
<text x="1258.4" y="336.42" font-size="17.5" text-anchor="end">0.2</text>
<line x1="1267.3" y1="251.04" x2="1273.9" y2="251.04" stroke="#000" stroke-width="1.5"/>
<text x="1258.4" y="257.14" font-size="17.5" text-anchor="end">0.4</text>
<line x1="1267.3" y1="171.76" x2="1273.9" y2="171.76" stroke="#000" stroke-width="1.5"/>
<text x="1258.4" y="177.86" font-size="17.5" text-anchor="end">0.6</text>
<line x1="1267.3" y1="92.48" x2="1273.9" y2="92.48" stroke="#000" stroke-width="1.5"/>
<text x="1258.4" y="98.58" font-size="17.5" text-anchor="end">0.8</text>
<line x1="1267.3" y1="13.2" x2="1273.9" y2="13.2" stroke="#000" stroke-width="1.5"/>
<text x="1258.4" y="19.3" font-size="17.5" text-anchor="end">1.0</text>
<text x="1521.7" y="475.7" font-size="21.1" text-anchor="middle">Site</text>
<text x="1222.9" y="211" font-size="21.1" text-anchor="middle" transform="rotate(-90 1222.9 211)">Proportion of days</text>
<text x="1206.8" y="23.7" font-size="31.2" font-weight="bold" stroke="none">C</text>
<rect x="1639.3" y="23.6" width="123.2" height="69.3" fill="#fff" stroke="#333" stroke-width="0.9"/>
<rect x="1643.2" y="31.9" width="40.1" height="13.1" fill="#fbb5b6" stroke="#222" stroke-width="1"/>
<text x="1692.5" y="44.5" font-size="17.5">&lt; 5 m</text>
<rect x="1643.2" y="51.6" width="40.1" height="13.1" fill="#fddab7" stroke="#222" stroke-width="1"/>
<text x="1692.5" y="64.2" font-size="17.5">5 - 10 m</text>
<rect x="1643.2" y="71.3" width="40.1" height="13.1" fill="#b9b9fb" stroke="#222" stroke-width="1"/>
<text x="1692.5" y="83.9" font-size="17.5">&gt; 10 m</text>
</g>
</svg>
</body>
</html>
